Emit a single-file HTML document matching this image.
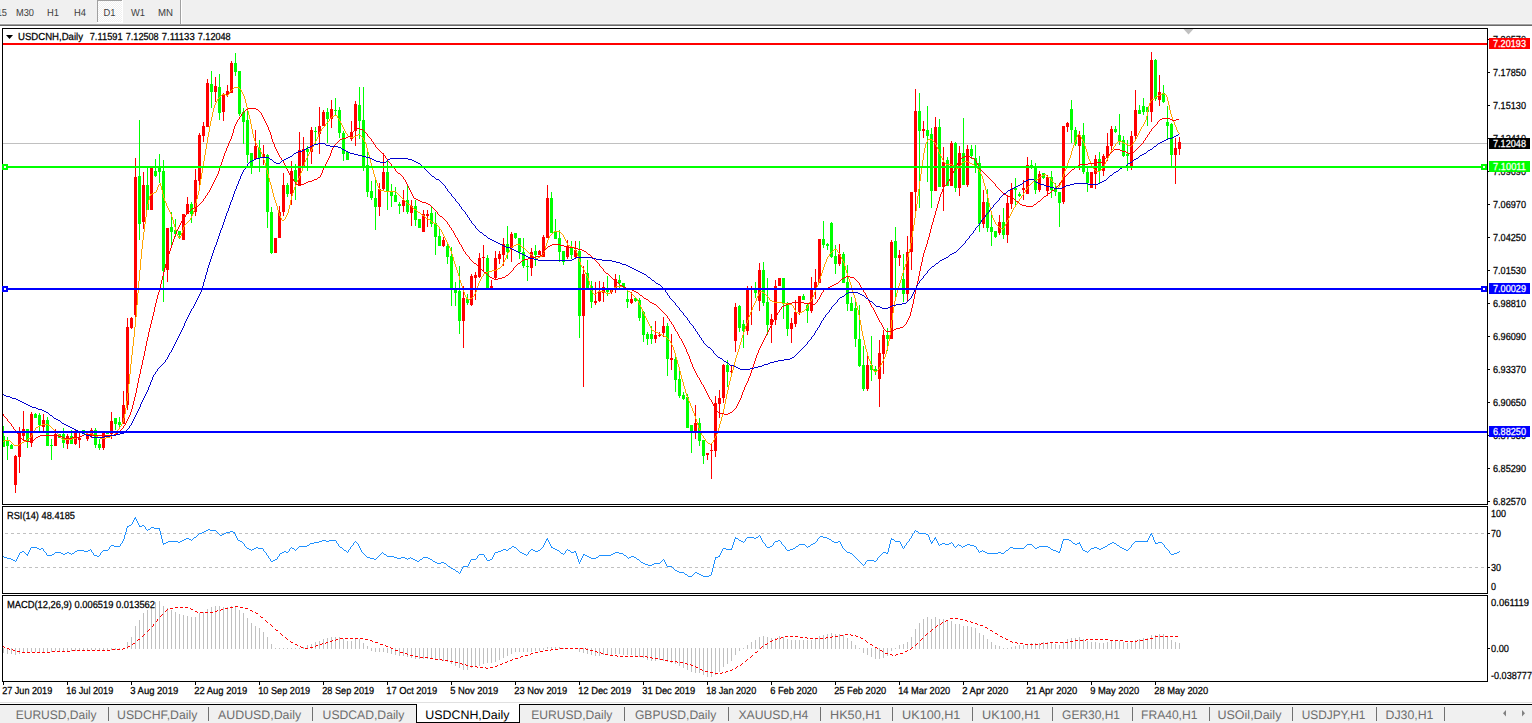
<!DOCTYPE html>
<html><head><meta charset="utf-8"><title>USDCNH,Daily</title>
<style>html,body{margin:0;padding:0;background:#fff}body{width:1532px;height:723px;overflow:hidden;position:relative;font-family:"Liberation Sans",Arial,sans-serif}svg text{white-space:pre}</style>
</head><body>
<svg width="1532" height="723" viewBox="0 0 1532 723" font-family="Liberation Sans, Arial, sans-serif" text-rendering="geometricPrecision" style="position:absolute;left:0;top:0">
<rect x="0" y="0" width="1532" height="723" fill="#fff"/>
<rect x="0" y="0" width="1532" height="24" fill="#f0f0f0"/>
<rect x="0" y="23" width="1532" height="1" fill="#f6f6f6"/>
<rect x="0" y="24" width="1532" height="1" fill="#a0a0a0"/>
<rect x="0" y="25" width="1532" height="1" fill="#696969"/>
<defs><pattern id="dz" width="2" height="2" patternUnits="userSpaceOnUse"><rect width="2" height="2" fill="#f0f0f0"/><rect width="1" height="1" fill="#fff"/><rect x="1" y="1" width="1" height="1" fill="#fff"/></pattern></defs>
<rect x="97" y="0" width="26" height="23" fill="url(#dz)" shape-rendering="crispEdges"/>
<rect x="97" y="0" width="26" height="1" fill="#a0a0a0"/>
<rect x="97" y="0" width="1" height="23" fill="#a0a0a0"/>
<rect x="97" y="22" width="26" height="1" fill="#fff"/>
<rect x="122" y="0" width="1" height="23" fill="#fff"/>
<rect x="180" y="0" width="1" height="24" fill="#a0a0a0"/>
<rect x="181" y="0" width="1" height="24" fill="#fff"/>
<text x="-11" y="16" font-size="10.2" fill="#404040" stroke="#404040" stroke-width="0" textLength="18" lengthAdjust="spacingAndGlyphs">M15</text>
<text x="16" y="16" font-size="10.2" fill="#404040" stroke="#404040" stroke-width="0" textLength="18" lengthAdjust="spacingAndGlyphs">M30</text>
<text x="47" y="16" font-size="10.2" fill="#404040" stroke="#404040" stroke-width="0" textLength="12" lengthAdjust="spacingAndGlyphs">H1</text>
<text x="74" y="16" font-size="10.2" fill="#404040" stroke="#404040" stroke-width="0" textLength="12" lengthAdjust="spacingAndGlyphs">H4</text>
<text x="103.5" y="16" font-size="10.2" fill="#404040" stroke="#404040" stroke-width="0" textLength="12" lengthAdjust="spacingAndGlyphs">D1</text>
<text x="131" y="16" font-size="10.2" fill="#404040" stroke="#404040" stroke-width="0" textLength="14" lengthAdjust="spacingAndGlyphs">W1</text>
<text x="158" y="16" font-size="10.2" fill="#404040" stroke="#404040" stroke-width="0" textLength="15" lengthAdjust="spacingAndGlyphs">MN</text>
<g shape-rendering="crispEdges">
<rect x="3" y="143" width="1484" height="1" fill="#c0c0c0"/>
<rect x="3" y="426" width="1" height="21" fill="#00ff00"/>
<rect x="2" y="436" width="3" height="11" fill="#00ff00"/>
<rect x="7" y="437" width="1" height="23" fill="#00ff00"/>
<rect x="6" y="441" width="3" height="5" fill="#00ff00"/>
<rect x="11" y="444" width="1" height="5" fill="#00ff00"/>
<rect x="10" y="445" width="3" height="4" fill="#00ff00"/>
<rect x="15" y="455" width="1" height="38" fill="#ff0000"/>
<rect x="14" y="456" width="3" height="29" fill="#ff0000"/>
<rect x="19" y="427" width="1" height="46" fill="#ff0000"/>
<rect x="18" y="432" width="3" height="25" fill="#ff0000"/>
<rect x="23" y="411" width="1" height="30" fill="#ff0000"/>
<rect x="22" y="429" width="3" height="7" fill="#ff0000"/>
<rect x="27" y="429" width="1" height="19" fill="#00ff00"/>
<rect x="26" y="429" width="3" height="12" fill="#00ff00"/>
<rect x="31" y="412" width="1" height="35" fill="#ff0000"/>
<rect x="30" y="414" width="3" height="29" fill="#ff0000"/>
<rect x="35" y="413" width="1" height="5" fill="#00ff00"/>
<rect x="34" y="414" width="3" height="4" fill="#00ff00"/>
<rect x="39" y="413" width="1" height="18" fill="#00ff00"/>
<rect x="38" y="415" width="3" height="10" fill="#00ff00"/>
<rect x="43" y="414" width="1" height="17" fill="#ff0000"/>
<rect x="42" y="420" width="3" height="7" fill="#ff0000"/>
<rect x="47" y="417" width="1" height="29" fill="#00ff00"/>
<rect x="46" y="420" width="3" height="26" fill="#00ff00"/>
<rect x="51" y="439" width="1" height="21" fill="#00ff00"/>
<rect x="50" y="445" width="3" height="1" fill="#00ff00"/>
<rect x="55" y="429" width="1" height="17" fill="#ff0000"/>
<rect x="54" y="434" width="3" height="12" fill="#ff0000"/>
<rect x="59" y="434" width="1" height="4" fill="#00ff00"/>
<rect x="58" y="434" width="3" height="4" fill="#00ff00"/>
<rect x="63" y="428" width="1" height="20" fill="#00ff00"/>
<rect x="62" y="434" width="3" height="9" fill="#00ff00"/>
<rect x="67" y="434" width="1" height="15" fill="#ff0000"/>
<rect x="66" y="436" width="3" height="8" fill="#ff0000"/>
<rect x="71" y="430" width="1" height="14" fill="#00ff00"/>
<rect x="70" y="436" width="3" height="8" fill="#00ff00"/>
<rect x="75" y="430" width="1" height="15" fill="#ff0000"/>
<rect x="74" y="433" width="3" height="11" fill="#ff0000"/>
<rect x="79" y="433" width="1" height="15" fill="#ff0000"/>
<rect x="78" y="438" width="3" height="2" fill="#ff0000"/>
<rect x="83" y="430" width="1" height="4" fill="#00ff00"/>
<rect x="82" y="430" width="3" height="4" fill="#00ff00"/>
<rect x="87" y="433" width="1" height="8" fill="#ff0000"/>
<rect x="86" y="434" width="3" height="5" fill="#ff0000"/>
<rect x="91" y="428" width="1" height="10" fill="#ff0000"/>
<rect x="90" y="430" width="3" height="6" fill="#ff0000"/>
<rect x="95" y="428" width="1" height="20" fill="#00ff00"/>
<rect x="94" y="430" width="3" height="15" fill="#00ff00"/>
<rect x="99" y="439" width="1" height="11" fill="#00ff00"/>
<rect x="98" y="444" width="3" height="4" fill="#00ff00"/>
<rect x="103" y="433" width="1" height="17" fill="#ff0000"/>
<rect x="102" y="433" width="3" height="15" fill="#ff0000"/>
<rect x="107" y="432" width="1" height="2" fill="#00ff00"/>
<rect x="106" y="432" width="3" height="2" fill="#00ff00"/>
<rect x="111" y="412" width="1" height="27" fill="#ff0000"/>
<rect x="110" y="421" width="3" height="13" fill="#ff0000"/>
<rect x="115" y="418" width="1" height="12" fill="#00ff00"/>
<rect x="114" y="418" width="3" height="6" fill="#00ff00"/>
<rect x="119" y="417" width="1" height="10" fill="#00ff00"/>
<rect x="118" y="422" width="3" height="3" fill="#00ff00"/>
<rect x="123" y="391" width="1" height="33" fill="#ff0000"/>
<rect x="122" y="405" width="3" height="19" fill="#ff0000"/>
<rect x="127" y="318" width="1" height="92" fill="#ff0000"/>
<rect x="126" y="327" width="3" height="78" fill="#ff0000"/>
<rect x="131" y="317" width="1" height="12" fill="#ff0000"/>
<rect x="130" y="318" width="3" height="10" fill="#ff0000"/>
<rect x="135" y="158" width="1" height="163" fill="#ff0000"/>
<rect x="134" y="177" width="3" height="138" fill="#ff0000"/>
<rect x="139" y="120" width="1" height="120" fill="#00ff00"/>
<rect x="138" y="176" width="3" height="48" fill="#00ff00"/>
<rect x="143" y="172" width="1" height="57" fill="#ff0000"/>
<rect x="142" y="185" width="3" height="37" fill="#ff0000"/>
<rect x="147" y="168" width="1" height="42" fill="#00ff00"/>
<rect x="146" y="185" width="3" height="25" fill="#00ff00"/>
<rect x="151" y="168" width="1" height="42" fill="#ff0000"/>
<rect x="150" y="168" width="3" height="42" fill="#ff0000"/>
<rect x="155" y="159" width="1" height="18" fill="#00ff00"/>
<rect x="154" y="171" width="3" height="5" fill="#00ff00"/>
<rect x="159" y="154" width="1" height="29" fill="#00ff00"/>
<rect x="158" y="166" width="3" height="6" fill="#00ff00"/>
<rect x="163" y="160" width="1" height="142" fill="#00ff00"/>
<rect x="162" y="171" width="3" height="100" fill="#00ff00"/>
<rect x="167" y="228" width="1" height="54" fill="#ff0000"/>
<rect x="166" y="228" width="3" height="42" fill="#ff0000"/>
<rect x="171" y="212" width="1" height="36" fill="#00ff00"/>
<rect x="170" y="227" width="3" height="5" fill="#00ff00"/>
<rect x="175" y="219" width="1" height="18" fill="#00ff00"/>
<rect x="174" y="230" width="3" height="4" fill="#00ff00"/>
<rect x="179" y="231" width="1" height="8" fill="#00ff00"/>
<rect x="178" y="231" width="3" height="4" fill="#00ff00"/>
<rect x="183" y="214" width="1" height="26" fill="#ff0000"/>
<rect x="182" y="214" width="3" height="26" fill="#ff0000"/>
<rect x="187" y="197" width="1" height="17" fill="#ff0000"/>
<rect x="186" y="204" width="3" height="10" fill="#ff0000"/>
<rect x="191" y="202" width="1" height="21" fill="#00ff00"/>
<rect x="190" y="204" width="3" height="10" fill="#00ff00"/>
<rect x="195" y="169" width="1" height="47" fill="#ff0000"/>
<rect x="194" y="180" width="3" height="32" fill="#ff0000"/>
<rect x="199" y="133" width="1" height="54" fill="#ff0000"/>
<rect x="198" y="135" width="3" height="46" fill="#ff0000"/>
<rect x="203" y="122" width="1" height="20" fill="#ff0000"/>
<rect x="202" y="126" width="3" height="10" fill="#ff0000"/>
<rect x="207" y="79" width="1" height="48" fill="#ff0000"/>
<rect x="206" y="83" width="3" height="44" fill="#ff0000"/>
<rect x="211" y="71" width="1" height="37" fill="#00ff00"/>
<rect x="210" y="84" width="3" height="8" fill="#00ff00"/>
<rect x="215" y="77" width="1" height="25" fill="#ff0000"/>
<rect x="214" y="86" width="3" height="6" fill="#ff0000"/>
<rect x="219" y="74" width="1" height="46" fill="#00ff00"/>
<rect x="218" y="87" width="3" height="26" fill="#00ff00"/>
<rect x="223" y="93" width="1" height="28" fill="#ff0000"/>
<rect x="222" y="95" width="3" height="17" fill="#ff0000"/>
<rect x="227" y="85" width="1" height="12" fill="#ff0000"/>
<rect x="226" y="91" width="3" height="4" fill="#ff0000"/>
<rect x="231" y="61" width="1" height="32" fill="#ff0000"/>
<rect x="230" y="63" width="3" height="30" fill="#ff0000"/>
<rect x="235" y="53" width="1" height="23" fill="#00ff00"/>
<rect x="234" y="63" width="3" height="9" fill="#00ff00"/>
<rect x="239" y="71" width="1" height="45" fill="#00ff00"/>
<rect x="238" y="71" width="3" height="43" fill="#00ff00"/>
<rect x="243" y="108" width="1" height="36" fill="#00ff00"/>
<rect x="242" y="112" width="3" height="10" fill="#00ff00"/>
<rect x="247" y="108" width="1" height="55" fill="#00ff00"/>
<rect x="246" y="120" width="3" height="35" fill="#00ff00"/>
<rect x="251" y="153" width="1" height="21" fill="#00ff00"/>
<rect x="250" y="153" width="3" height="13" fill="#00ff00"/>
<rect x="255" y="130" width="1" height="30" fill="#ff0000"/>
<rect x="254" y="146" width="3" height="13" fill="#ff0000"/>
<rect x="259" y="140" width="1" height="32" fill="#00ff00"/>
<rect x="258" y="148" width="3" height="10" fill="#00ff00"/>
<rect x="263" y="145" width="1" height="20" fill="#ff0000"/>
<rect x="262" y="154" width="3" height="4" fill="#ff0000"/>
<rect x="267" y="154" width="1" height="74" fill="#00ff00"/>
<rect x="266" y="155" width="3" height="57" fill="#00ff00"/>
<rect x="271" y="207" width="1" height="47" fill="#00ff00"/>
<rect x="270" y="212" width="3" height="41" fill="#00ff00"/>
<rect x="275" y="238" width="1" height="15" fill="#ff0000"/>
<rect x="274" y="238" width="3" height="15" fill="#ff0000"/>
<rect x="279" y="206" width="1" height="32" fill="#ff0000"/>
<rect x="278" y="212" width="3" height="26" fill="#ff0000"/>
<rect x="283" y="173" width="1" height="43" fill="#ff0000"/>
<rect x="282" y="185" width="3" height="27" fill="#ff0000"/>
<rect x="287" y="183" width="1" height="14" fill="#00ff00"/>
<rect x="286" y="185" width="3" height="9" fill="#00ff00"/>
<rect x="291" y="161" width="1" height="44" fill="#ff0000"/>
<rect x="290" y="171" width="3" height="23" fill="#ff0000"/>
<rect x="295" y="164" width="1" height="36" fill="#00ff00"/>
<rect x="294" y="170" width="3" height="12" fill="#00ff00"/>
<rect x="299" y="132" width="1" height="54" fill="#ff0000"/>
<rect x="298" y="150" width="3" height="36" fill="#ff0000"/>
<rect x="303" y="137" width="1" height="29" fill="#ff0000"/>
<rect x="302" y="149" width="3" height="17" fill="#ff0000"/>
<rect x="307" y="146" width="1" height="25" fill="#00ff00"/>
<rect x="306" y="149" width="3" height="3" fill="#00ff00"/>
<rect x="311" y="127" width="1" height="37" fill="#ff0000"/>
<rect x="310" y="130" width="3" height="22" fill="#ff0000"/>
<rect x="315" y="127" width="1" height="18" fill="#00ff00"/>
<rect x="314" y="131" width="3" height="1" fill="#00ff00"/>
<rect x="319" y="107" width="1" height="47" fill="#ff0000"/>
<rect x="318" y="126" width="3" height="8" fill="#ff0000"/>
<rect x="323" y="110" width="1" height="16" fill="#ff0000"/>
<rect x="322" y="112" width="3" height="14" fill="#ff0000"/>
<rect x="327" y="108" width="1" height="35" fill="#00ff00"/>
<rect x="326" y="112" width="3" height="7" fill="#00ff00"/>
<rect x="331" y="100" width="1" height="28" fill="#ff0000"/>
<rect x="330" y="109" width="3" height="10" fill="#ff0000"/>
<rect x="335" y="98" width="1" height="17" fill="#00ff00"/>
<rect x="334" y="110" width="3" height="1" fill="#00ff00"/>
<rect x="339" y="107" width="1" height="31" fill="#00ff00"/>
<rect x="338" y="110" width="3" height="23" fill="#00ff00"/>
<rect x="343" y="131" width="1" height="30" fill="#00ff00"/>
<rect x="342" y="133" width="3" height="21" fill="#00ff00"/>
<rect x="347" y="152" width="1" height="8" fill="#00ff00"/>
<rect x="346" y="152" width="3" height="8" fill="#00ff00"/>
<rect x="351" y="121" width="1" height="20" fill="#ff0000"/>
<rect x="350" y="132" width="3" height="7" fill="#ff0000"/>
<rect x="355" y="101" width="1" height="45" fill="#ff0000"/>
<rect x="354" y="104" width="3" height="27" fill="#ff0000"/>
<rect x="359" y="87" width="1" height="52" fill="#00ff00"/>
<rect x="358" y="105" width="3" height="16" fill="#00ff00"/>
<rect x="363" y="87" width="1" height="84" fill="#00ff00"/>
<rect x="362" y="120" width="3" height="47" fill="#00ff00"/>
<rect x="367" y="149" width="1" height="48" fill="#00ff00"/>
<rect x="366" y="165" width="3" height="27" fill="#00ff00"/>
<rect x="371" y="181" width="1" height="19" fill="#00ff00"/>
<rect x="370" y="191" width="3" height="7" fill="#00ff00"/>
<rect x="375" y="178" width="1" height="52" fill="#00ff00"/>
<rect x="374" y="198" width="3" height="9" fill="#00ff00"/>
<rect x="379" y="183" width="1" height="33" fill="#ff0000"/>
<rect x="378" y="189" width="3" height="18" fill="#ff0000"/>
<rect x="383" y="153" width="1" height="37" fill="#ff0000"/>
<rect x="382" y="172" width="3" height="17" fill="#ff0000"/>
<rect x="387" y="160" width="1" height="50" fill="#00ff00"/>
<rect x="386" y="172" width="3" height="19" fill="#00ff00"/>
<rect x="391" y="184" width="1" height="23" fill="#00ff00"/>
<rect x="390" y="191" width="3" height="5" fill="#00ff00"/>
<rect x="395" y="187" width="1" height="15" fill="#00ff00"/>
<rect x="394" y="195" width="3" height="7" fill="#00ff00"/>
<rect x="399" y="202" width="1" height="12" fill="#00ff00"/>
<rect x="398" y="204" width="3" height="2" fill="#00ff00"/>
<rect x="403" y="190" width="1" height="22" fill="#ff0000"/>
<rect x="402" y="200" width="3" height="6" fill="#ff0000"/>
<rect x="407" y="186" width="1" height="28" fill="#00ff00"/>
<rect x="406" y="200" width="3" height="12" fill="#00ff00"/>
<rect x="411" y="200" width="1" height="26" fill="#ff0000"/>
<rect x="410" y="206" width="3" height="7" fill="#ff0000"/>
<rect x="415" y="200" width="1" height="26" fill="#00ff00"/>
<rect x="414" y="206" width="3" height="14" fill="#00ff00"/>
<rect x="419" y="219" width="1" height="9" fill="#00ff00"/>
<rect x="418" y="219" width="3" height="9" fill="#00ff00"/>
<rect x="423" y="210" width="1" height="22" fill="#ff0000"/>
<rect x="422" y="214" width="3" height="18" fill="#ff0000"/>
<rect x="427" y="210" width="1" height="17" fill="#ff0000"/>
<rect x="426" y="214" width="3" height="2" fill="#ff0000"/>
<rect x="431" y="206" width="1" height="21" fill="#00ff00"/>
<rect x="430" y="213" width="3" height="11" fill="#00ff00"/>
<rect x="435" y="212" width="1" height="43" fill="#00ff00"/>
<rect x="434" y="223" width="3" height="14" fill="#00ff00"/>
<rect x="439" y="227" width="1" height="19" fill="#00ff00"/>
<rect x="438" y="236" width="3" height="10" fill="#00ff00"/>
<rect x="443" y="237" width="1" height="10" fill="#ff0000"/>
<rect x="442" y="240" width="3" height="6" fill="#ff0000"/>
<rect x="447" y="242" width="1" height="22" fill="#00ff00"/>
<rect x="446" y="246" width="3" height="11" fill="#00ff00"/>
<rect x="451" y="247" width="1" height="59" fill="#00ff00"/>
<rect x="450" y="256" width="3" height="33" fill="#00ff00"/>
<rect x="455" y="282" width="1" height="24" fill="#00ff00"/>
<rect x="454" y="289" width="3" height="4" fill="#00ff00"/>
<rect x="459" y="266" width="1" height="68" fill="#00ff00"/>
<rect x="458" y="291" width="3" height="30" fill="#00ff00"/>
<rect x="463" y="286" width="1" height="62" fill="#ff0000"/>
<rect x="462" y="298" width="3" height="23" fill="#ff0000"/>
<rect x="467" y="294" width="1" height="11" fill="#00ff00"/>
<rect x="466" y="299" width="3" height="4" fill="#00ff00"/>
<rect x="471" y="274" width="1" height="32" fill="#ff0000"/>
<rect x="470" y="276" width="3" height="29" fill="#ff0000"/>
<rect x="475" y="272" width="1" height="28" fill="#ff0000"/>
<rect x="474" y="275" width="3" height="3" fill="#ff0000"/>
<rect x="479" y="253" width="1" height="25" fill="#ff0000"/>
<rect x="478" y="258" width="3" height="19" fill="#ff0000"/>
<rect x="483" y="245" width="1" height="26" fill="#ff0000"/>
<rect x="482" y="257" width="3" height="1" fill="#ff0000"/>
<rect x="487" y="255" width="1" height="33" fill="#00ff00"/>
<rect x="486" y="258" width="3" height="30" fill="#00ff00"/>
<rect x="491" y="280" width="1" height="8" fill="#ff0000"/>
<rect x="490" y="286" width="3" height="2" fill="#ff0000"/>
<rect x="495" y="251" width="1" height="28" fill="#ff0000"/>
<rect x="494" y="258" width="3" height="20" fill="#ff0000"/>
<rect x="499" y="251" width="1" height="13" fill="#ff0000"/>
<rect x="498" y="254" width="3" height="5" fill="#ff0000"/>
<rect x="503" y="238" width="1" height="28" fill="#ff0000"/>
<rect x="502" y="244" width="3" height="11" fill="#ff0000"/>
<rect x="507" y="226" width="1" height="33" fill="#00ff00"/>
<rect x="506" y="244" width="3" height="8" fill="#00ff00"/>
<rect x="511" y="232" width="1" height="30" fill="#ff0000"/>
<rect x="510" y="234" width="3" height="14" fill="#ff0000"/>
<rect x="515" y="233" width="1" height="6" fill="#00ff00"/>
<rect x="514" y="233" width="3" height="5" fill="#00ff00"/>
<rect x="519" y="238" width="1" height="21" fill="#00ff00"/>
<rect x="518" y="238" width="3" height="14" fill="#00ff00"/>
<rect x="523" y="238" width="1" height="30" fill="#00ff00"/>
<rect x="522" y="252" width="3" height="14" fill="#00ff00"/>
<rect x="527" y="260" width="1" height="21" fill="#00ff00"/>
<rect x="526" y="266" width="3" height="1" fill="#00ff00"/>
<rect x="531" y="248" width="1" height="28" fill="#ff0000"/>
<rect x="530" y="252" width="3" height="16" fill="#ff0000"/>
<rect x="535" y="245" width="1" height="21" fill="#00ff00"/>
<rect x="534" y="251" width="3" height="4" fill="#00ff00"/>
<rect x="539" y="250" width="1" height="5" fill="#ff0000"/>
<rect x="538" y="251" width="3" height="4" fill="#ff0000"/>
<rect x="543" y="235" width="1" height="22" fill="#ff0000"/>
<rect x="542" y="237" width="3" height="20" fill="#ff0000"/>
<rect x="547" y="185" width="1" height="53" fill="#ff0000"/>
<rect x="546" y="198" width="3" height="40" fill="#ff0000"/>
<rect x="551" y="192" width="1" height="41" fill="#00ff00"/>
<rect x="550" y="198" width="3" height="35" fill="#00ff00"/>
<rect x="555" y="219" width="1" height="20" fill="#00ff00"/>
<rect x="554" y="232" width="3" height="7" fill="#00ff00"/>
<rect x="559" y="230" width="1" height="32" fill="#00ff00"/>
<rect x="558" y="238" width="3" height="14" fill="#00ff00"/>
<rect x="563" y="251" width="1" height="14" fill="#00ff00"/>
<rect x="562" y="251" width="3" height="11" fill="#00ff00"/>
<rect x="567" y="240" width="1" height="19" fill="#ff0000"/>
<rect x="566" y="246" width="3" height="11" fill="#ff0000"/>
<rect x="571" y="241" width="1" height="18" fill="#00ff00"/>
<rect x="570" y="248" width="3" height="7" fill="#00ff00"/>
<rect x="575" y="241" width="1" height="18" fill="#ff0000"/>
<rect x="574" y="250" width="3" height="7" fill="#ff0000"/>
<rect x="579" y="241" width="1" height="97" fill="#00ff00"/>
<rect x="578" y="251" width="3" height="65" fill="#00ff00"/>
<rect x="583" y="266" width="1" height="121" fill="#ff0000"/>
<rect x="582" y="274" width="3" height="42" fill="#ff0000"/>
<rect x="587" y="260" width="1" height="28" fill="#00ff00"/>
<rect x="586" y="273" width="3" height="15" fill="#00ff00"/>
<rect x="591" y="281" width="1" height="27" fill="#00ff00"/>
<rect x="590" y="286" width="3" height="16" fill="#00ff00"/>
<rect x="595" y="282" width="1" height="23" fill="#ff0000"/>
<rect x="594" y="301" width="3" height="2" fill="#ff0000"/>
<rect x="599" y="281" width="1" height="21" fill="#ff0000"/>
<rect x="598" y="292" width="3" height="9" fill="#ff0000"/>
<rect x="603" y="282" width="1" height="20" fill="#ff0000"/>
<rect x="602" y="287" width="3" height="6" fill="#ff0000"/>
<rect x="607" y="276" width="1" height="20" fill="#00ff00"/>
<rect x="606" y="288" width="3" height="4" fill="#00ff00"/>
<rect x="611" y="288" width="1" height="6" fill="#ff0000"/>
<rect x="610" y="290" width="3" height="2" fill="#ff0000"/>
<rect x="615" y="274" width="1" height="19" fill="#ff0000"/>
<rect x="614" y="279" width="3" height="10" fill="#ff0000"/>
<rect x="619" y="275" width="1" height="13" fill="#00ff00"/>
<rect x="618" y="280" width="3" height="3" fill="#00ff00"/>
<rect x="623" y="283" width="1" height="7" fill="#00ff00"/>
<rect x="622" y="283" width="3" height="4" fill="#00ff00"/>
<rect x="627" y="290" width="1" height="18" fill="#00ff00"/>
<rect x="626" y="299" width="3" height="3" fill="#00ff00"/>
<rect x="631" y="292" width="1" height="12" fill="#ff0000"/>
<rect x="630" y="299" width="3" height="4" fill="#ff0000"/>
<rect x="635" y="297" width="1" height="5" fill="#00ff00"/>
<rect x="634" y="298" width="3" height="3" fill="#00ff00"/>
<rect x="639" y="298" width="1" height="23" fill="#00ff00"/>
<rect x="638" y="300" width="3" height="18" fill="#00ff00"/>
<rect x="643" y="311" width="1" height="31" fill="#00ff00"/>
<rect x="642" y="312" width="3" height="23" fill="#00ff00"/>
<rect x="647" y="332" width="1" height="13" fill="#00ff00"/>
<rect x="646" y="334" width="3" height="5" fill="#00ff00"/>
<rect x="651" y="326" width="1" height="18" fill="#00ff00"/>
<rect x="650" y="334" width="3" height="5" fill="#00ff00"/>
<rect x="655" y="321" width="1" height="22" fill="#ff0000"/>
<rect x="654" y="335" width="3" height="4" fill="#ff0000"/>
<rect x="659" y="332" width="1" height="5" fill="#ff0000"/>
<rect x="658" y="335" width="3" height="1" fill="#ff0000"/>
<rect x="663" y="317" width="1" height="20" fill="#ff0000"/>
<rect x="662" y="326" width="3" height="7" fill="#ff0000"/>
<rect x="667" y="323" width="1" height="53" fill="#00ff00"/>
<rect x="666" y="326" width="3" height="33" fill="#00ff00"/>
<rect x="671" y="334" width="1" height="36" fill="#ff0000"/>
<rect x="670" y="358" width="3" height="2" fill="#ff0000"/>
<rect x="675" y="357" width="1" height="35" fill="#00ff00"/>
<rect x="674" y="359" width="3" height="21" fill="#00ff00"/>
<rect x="679" y="370" width="1" height="28" fill="#00ff00"/>
<rect x="678" y="379" width="3" height="17" fill="#00ff00"/>
<rect x="683" y="392" width="1" height="8" fill="#00ff00"/>
<rect x="682" y="395" width="3" height="4" fill="#00ff00"/>
<rect x="687" y="394" width="1" height="34" fill="#00ff00"/>
<rect x="686" y="397" width="3" height="31" fill="#00ff00"/>
<rect x="691" y="425" width="1" height="28" fill="#00ff00"/>
<rect x="690" y="425" width="3" height="6" fill="#00ff00"/>
<rect x="695" y="405" width="1" height="34" fill="#ff0000"/>
<rect x="694" y="423" width="3" height="8" fill="#ff0000"/>
<rect x="699" y="418" width="1" height="28" fill="#00ff00"/>
<rect x="698" y="423" width="3" height="18" fill="#00ff00"/>
<rect x="703" y="440" width="1" height="24" fill="#00ff00"/>
<rect x="702" y="440" width="3" height="16" fill="#00ff00"/>
<rect x="707" y="453" width="1" height="7" fill="#ff0000"/>
<rect x="706" y="453" width="3" height="2" fill="#ff0000"/>
<rect x="711" y="444" width="1" height="35" fill="#ff0000"/>
<rect x="710" y="450" width="3" height="1" fill="#ff0000"/>
<rect x="715" y="396" width="1" height="61" fill="#ff0000"/>
<rect x="714" y="403" width="3" height="48" fill="#ff0000"/>
<rect x="719" y="390" width="1" height="28" fill="#ff0000"/>
<rect x="718" y="398" width="3" height="6" fill="#ff0000"/>
<rect x="723" y="364" width="1" height="39" fill="#ff0000"/>
<rect x="722" y="365" width="3" height="33" fill="#ff0000"/>
<rect x="727" y="360" width="1" height="27" fill="#00ff00"/>
<rect x="726" y="365" width="3" height="7" fill="#00ff00"/>
<rect x="731" y="366" width="1" height="9" fill="#ff0000"/>
<rect x="730" y="371" width="3" height="1" fill="#ff0000"/>
<rect x="735" y="303" width="1" height="49" fill="#ff0000"/>
<rect x="734" y="307" width="3" height="34" fill="#ff0000"/>
<rect x="739" y="305" width="1" height="27" fill="#00ff00"/>
<rect x="738" y="306" width="3" height="22" fill="#00ff00"/>
<rect x="743" y="320" width="1" height="28" fill="#00ff00"/>
<rect x="742" y="324" width="3" height="7" fill="#00ff00"/>
<rect x="747" y="286" width="1" height="49" fill="#ff0000"/>
<rect x="746" y="288" width="3" height="43" fill="#ff0000"/>
<rect x="751" y="286" width="1" height="39" fill="#ff0000"/>
<rect x="750" y="288" width="3" height="2" fill="#ff0000"/>
<rect x="755" y="282" width="1" height="16" fill="#00ff00"/>
<rect x="754" y="288" width="3" height="5" fill="#00ff00"/>
<rect x="759" y="263" width="1" height="48" fill="#ff0000"/>
<rect x="758" y="270" width="3" height="31" fill="#ff0000"/>
<rect x="763" y="262" width="1" height="44" fill="#00ff00"/>
<rect x="762" y="270" width="3" height="33" fill="#00ff00"/>
<rect x="767" y="278" width="1" height="57" fill="#00ff00"/>
<rect x="766" y="302" width="3" height="23" fill="#00ff00"/>
<rect x="771" y="314" width="1" height="29" fill="#ff0000"/>
<rect x="770" y="319" width="3" height="6" fill="#ff0000"/>
<rect x="775" y="280" width="1" height="45" fill="#ff0000"/>
<rect x="774" y="286" width="3" height="34" fill="#ff0000"/>
<rect x="779" y="278" width="1" height="8" fill="#ff0000"/>
<rect x="778" y="278" width="3" height="8" fill="#ff0000"/>
<rect x="783" y="278" width="1" height="41" fill="#00ff00"/>
<rect x="782" y="278" width="3" height="25" fill="#00ff00"/>
<rect x="787" y="302" width="1" height="34" fill="#00ff00"/>
<rect x="786" y="304" width="3" height="25" fill="#00ff00"/>
<rect x="791" y="318" width="1" height="25" fill="#ff0000"/>
<rect x="790" y="323" width="3" height="6" fill="#ff0000"/>
<rect x="795" y="300" width="1" height="27" fill="#ff0000"/>
<rect x="794" y="312" width="3" height="12" fill="#ff0000"/>
<rect x="799" y="296" width="1" height="19" fill="#ff0000"/>
<rect x="798" y="296" width="3" height="16" fill="#ff0000"/>
<rect x="803" y="294" width="1" height="6" fill="#00ff00"/>
<rect x="802" y="296" width="3" height="4" fill="#00ff00"/>
<rect x="807" y="304" width="1" height="19" fill="#00ff00"/>
<rect x="806" y="305" width="3" height="6" fill="#00ff00"/>
<rect x="811" y="277" width="1" height="36" fill="#ff0000"/>
<rect x="810" y="288" width="3" height="23" fill="#ff0000"/>
<rect x="815" y="269" width="1" height="30" fill="#ff0000"/>
<rect x="814" y="282" width="3" height="7" fill="#ff0000"/>
<rect x="819" y="239" width="1" height="44" fill="#ff0000"/>
<rect x="818" y="239" width="3" height="44" fill="#ff0000"/>
<rect x="823" y="221" width="1" height="27" fill="#00ff00"/>
<rect x="822" y="239" width="3" height="6" fill="#00ff00"/>
<rect x="827" y="243" width="1" height="7" fill="#00ff00"/>
<rect x="826" y="244" width="3" height="2" fill="#00ff00"/>
<rect x="831" y="222" width="1" height="36" fill="#00ff00"/>
<rect x="830" y="223" width="3" height="34" fill="#00ff00"/>
<rect x="835" y="245" width="1" height="29" fill="#00ff00"/>
<rect x="834" y="256" width="3" height="8" fill="#00ff00"/>
<rect x="839" y="244" width="1" height="22" fill="#ff0000"/>
<rect x="838" y="254" width="3" height="10" fill="#ff0000"/>
<rect x="843" y="252" width="1" height="31" fill="#00ff00"/>
<rect x="842" y="254" width="3" height="29" fill="#00ff00"/>
<rect x="847" y="265" width="1" height="46" fill="#00ff00"/>
<rect x="846" y="282" width="3" height="22" fill="#00ff00"/>
<rect x="851" y="297" width="1" height="14" fill="#00ff00"/>
<rect x="850" y="303" width="3" height="8" fill="#00ff00"/>
<rect x="855" y="302" width="1" height="45" fill="#00ff00"/>
<rect x="854" y="308" width="3" height="31" fill="#00ff00"/>
<rect x="859" y="305" width="1" height="62" fill="#00ff00"/>
<rect x="858" y="339" width="3" height="27" fill="#00ff00"/>
<rect x="863" y="346" width="1" height="45" fill="#00ff00"/>
<rect x="862" y="365" width="3" height="24" fill="#00ff00"/>
<rect x="867" y="356" width="1" height="35" fill="#ff0000"/>
<rect x="866" y="365" width="3" height="24" fill="#ff0000"/>
<rect x="871" y="336" width="1" height="45" fill="#00ff00"/>
<rect x="870" y="365" width="3" height="5" fill="#00ff00"/>
<rect x="875" y="366" width="1" height="9" fill="#00ff00"/>
<rect x="874" y="369" width="3" height="3" fill="#00ff00"/>
<rect x="879" y="340" width="1" height="67" fill="#ff0000"/>
<rect x="878" y="353" width="3" height="26" fill="#ff0000"/>
<rect x="883" y="330" width="1" height="44" fill="#ff0000"/>
<rect x="882" y="335" width="3" height="19" fill="#ff0000"/>
<rect x="887" y="328" width="1" height="23" fill="#00ff00"/>
<rect x="886" y="335" width="3" height="4" fill="#00ff00"/>
<rect x="891" y="240" width="1" height="99" fill="#ff0000"/>
<rect x="890" y="242" width="3" height="97" fill="#ff0000"/>
<rect x="895" y="227" width="1" height="72" fill="#00ff00"/>
<rect x="894" y="241" width="3" height="17" fill="#00ff00"/>
<rect x="899" y="250" width="1" height="16" fill="#ff0000"/>
<rect x="898" y="255" width="3" height="3" fill="#ff0000"/>
<rect x="903" y="254" width="1" height="48" fill="#00ff00"/>
<rect x="902" y="279" width="3" height="15" fill="#00ff00"/>
<rect x="907" y="236" width="1" height="65" fill="#ff0000"/>
<rect x="906" y="252" width="3" height="42" fill="#ff0000"/>
<rect x="911" y="192" width="1" height="78" fill="#ff0000"/>
<rect x="910" y="192" width="3" height="60" fill="#ff0000"/>
<rect x="915" y="89" width="1" height="129" fill="#ff0000"/>
<rect x="914" y="111" width="3" height="81" fill="#ff0000"/>
<rect x="919" y="93" width="1" height="115" fill="#00ff00"/>
<rect x="918" y="111" width="3" height="20" fill="#00ff00"/>
<rect x="923" y="121" width="1" height="17" fill="#ff0000"/>
<rect x="922" y="129" width="3" height="2" fill="#ff0000"/>
<rect x="927" y="106" width="1" height="76" fill="#00ff00"/>
<rect x="926" y="130" width="3" height="6" fill="#00ff00"/>
<rect x="931" y="128" width="1" height="80" fill="#00ff00"/>
<rect x="930" y="134" width="3" height="57" fill="#00ff00"/>
<rect x="935" y="117" width="1" height="74" fill="#ff0000"/>
<rect x="934" y="127" width="3" height="64" fill="#ff0000"/>
<rect x="939" y="119" width="1" height="68" fill="#00ff00"/>
<rect x="938" y="127" width="3" height="60" fill="#00ff00"/>
<rect x="943" y="147" width="1" height="64" fill="#ff0000"/>
<rect x="942" y="162" width="3" height="25" fill="#ff0000"/>
<rect x="947" y="157" width="1" height="29" fill="#00ff00"/>
<rect x="946" y="160" width="3" height="26" fill="#00ff00"/>
<rect x="951" y="141" width="1" height="45" fill="#ff0000"/>
<rect x="950" y="143" width="3" height="43" fill="#ff0000"/>
<rect x="955" y="142" width="1" height="50" fill="#00ff00"/>
<rect x="954" y="143" width="3" height="45" fill="#00ff00"/>
<rect x="959" y="146" width="1" height="50" fill="#ff0000"/>
<rect x="958" y="153" width="3" height="35" fill="#ff0000"/>
<rect x="963" y="118" width="1" height="67" fill="#00ff00"/>
<rect x="962" y="153" width="3" height="32" fill="#00ff00"/>
<rect x="967" y="145" width="1" height="42" fill="#ff0000"/>
<rect x="966" y="149" width="3" height="36" fill="#ff0000"/>
<rect x="971" y="145" width="1" height="14" fill="#00ff00"/>
<rect x="970" y="149" width="3" height="7" fill="#00ff00"/>
<rect x="975" y="145" width="1" height="28" fill="#00ff00"/>
<rect x="974" y="158" width="3" height="8" fill="#00ff00"/>
<rect x="979" y="156" width="1" height="76" fill="#00ff00"/>
<rect x="978" y="163" width="3" height="61" fill="#00ff00"/>
<rect x="983" y="190" width="1" height="38" fill="#ff0000"/>
<rect x="982" y="202" width="3" height="22" fill="#ff0000"/>
<rect x="987" y="189" width="1" height="43" fill="#00ff00"/>
<rect x="986" y="202" width="3" height="26" fill="#00ff00"/>
<rect x="991" y="215" width="1" height="31" fill="#00ff00"/>
<rect x="990" y="227" width="3" height="5" fill="#00ff00"/>
<rect x="995" y="231" width="1" height="7" fill="#00ff00"/>
<rect x="994" y="231" width="3" height="6" fill="#00ff00"/>
<rect x="999" y="215" width="1" height="20" fill="#ff0000"/>
<rect x="998" y="222" width="3" height="11" fill="#ff0000"/>
<rect x="1003" y="208" width="1" height="31" fill="#00ff00"/>
<rect x="1002" y="222" width="3" height="13" fill="#00ff00"/>
<rect x="1007" y="196" width="1" height="47" fill="#ff0000"/>
<rect x="1006" y="203" width="3" height="32" fill="#ff0000"/>
<rect x="1011" y="183" width="1" height="26" fill="#ff0000"/>
<rect x="1010" y="189" width="3" height="15" fill="#ff0000"/>
<rect x="1015" y="178" width="1" height="29" fill="#00ff00"/>
<rect x="1014" y="188" width="3" height="2" fill="#00ff00"/>
<rect x="1019" y="192" width="1" height="5" fill="#00ff00"/>
<rect x="1018" y="194" width="3" height="2" fill="#00ff00"/>
<rect x="1023" y="180" width="1" height="20" fill="#ff0000"/>
<rect x="1022" y="188" width="3" height="2" fill="#ff0000"/>
<rect x="1027" y="157" width="1" height="37" fill="#ff0000"/>
<rect x="1026" y="165" width="3" height="29" fill="#ff0000"/>
<rect x="1031" y="160" width="1" height="9" fill="#00ff00"/>
<rect x="1030" y="165" width="3" height="3" fill="#00ff00"/>
<rect x="1035" y="163" width="1" height="31" fill="#00ff00"/>
<rect x="1034" y="166" width="3" height="24" fill="#00ff00"/>
<rect x="1039" y="171" width="1" height="21" fill="#ff0000"/>
<rect x="1038" y="174" width="3" height="16" fill="#ff0000"/>
<rect x="1043" y="173" width="1" height="6" fill="#00ff00"/>
<rect x="1042" y="173" width="3" height="5" fill="#00ff00"/>
<rect x="1047" y="175" width="1" height="21" fill="#ff0000"/>
<rect x="1046" y="177" width="3" height="14" fill="#ff0000"/>
<rect x="1051" y="171" width="1" height="27" fill="#00ff00"/>
<rect x="1050" y="177" width="3" height="13" fill="#00ff00"/>
<rect x="1055" y="183" width="1" height="13" fill="#00ff00"/>
<rect x="1054" y="188" width="3" height="4" fill="#00ff00"/>
<rect x="1059" y="192" width="1" height="35" fill="#00ff00"/>
<rect x="1058" y="192" width="3" height="11" fill="#00ff00"/>
<rect x="1063" y="126" width="1" height="78" fill="#ff0000"/>
<rect x="1062" y="126" width="3" height="76" fill="#ff0000"/>
<rect x="1067" y="122" width="1" height="10" fill="#ff0000"/>
<rect x="1066" y="123" width="3" height="4" fill="#ff0000"/>
<rect x="1071" y="100" width="1" height="43" fill="#00ff00"/>
<rect x="1070" y="109" width="3" height="21" fill="#00ff00"/>
<rect x="1075" y="127" width="1" height="19" fill="#00ff00"/>
<rect x="1074" y="130" width="3" height="14" fill="#00ff00"/>
<rect x="1079" y="131" width="1" height="39" fill="#ff0000"/>
<rect x="1078" y="135" width="3" height="11" fill="#ff0000"/>
<rect x="1083" y="123" width="1" height="51" fill="#00ff00"/>
<rect x="1082" y="135" width="3" height="37" fill="#00ff00"/>
<rect x="1087" y="167" width="1" height="25" fill="#00ff00"/>
<rect x="1086" y="172" width="3" height="11" fill="#00ff00"/>
<rect x="1091" y="172" width="1" height="16" fill="#ff0000"/>
<rect x="1090" y="172" width="3" height="16" fill="#ff0000"/>
<rect x="1095" y="155" width="1" height="34" fill="#ff0000"/>
<rect x="1094" y="159" width="3" height="15" fill="#ff0000"/>
<rect x="1099" y="152" width="1" height="32" fill="#00ff00"/>
<rect x="1098" y="159" width="3" height="12" fill="#00ff00"/>
<rect x="1103" y="154" width="1" height="22" fill="#ff0000"/>
<rect x="1102" y="156" width="3" height="15" fill="#ff0000"/>
<rect x="1107" y="133" width="1" height="28" fill="#ff0000"/>
<rect x="1106" y="146" width="3" height="11" fill="#ff0000"/>
<rect x="1111" y="126" width="1" height="26" fill="#ff0000"/>
<rect x="1110" y="129" width="3" height="17" fill="#ff0000"/>
<rect x="1115" y="126" width="1" height="7" fill="#00ff00"/>
<rect x="1114" y="129" width="3" height="3" fill="#00ff00"/>
<rect x="1119" y="114" width="1" height="31" fill="#00ff00"/>
<rect x="1118" y="135" width="3" height="6" fill="#00ff00"/>
<rect x="1123" y="136" width="1" height="21" fill="#00ff00"/>
<rect x="1122" y="140" width="3" height="16" fill="#00ff00"/>
<rect x="1127" y="140" width="1" height="31" fill="#00ff00"/>
<rect x="1126" y="154" width="3" height="2" fill="#00ff00"/>
<rect x="1131" y="131" width="1" height="39" fill="#ff0000"/>
<rect x="1130" y="136" width="3" height="30" fill="#ff0000"/>
<rect x="1135" y="90" width="1" height="50" fill="#ff0000"/>
<rect x="1134" y="110" width="3" height="26" fill="#ff0000"/>
<rect x="1139" y="105" width="1" height="9" fill="#00ff00"/>
<rect x="1138" y="110" width="3" height="4" fill="#00ff00"/>
<rect x="1143" y="98" width="1" height="17" fill="#00ff00"/>
<rect x="1142" y="106" width="3" height="6" fill="#00ff00"/>
<rect x="1147" y="107" width="1" height="19" fill="#00ff00"/>
<rect x="1146" y="107" width="3" height="5" fill="#00ff00"/>
<rect x="1151" y="52" width="1" height="70" fill="#ff0000"/>
<rect x="1150" y="60" width="3" height="52" fill="#ff0000"/>
<rect x="1155" y="59" width="1" height="42" fill="#00ff00"/>
<rect x="1154" y="60" width="3" height="39" fill="#00ff00"/>
<rect x="1159" y="75" width="1" height="31" fill="#ff0000"/>
<rect x="1158" y="92" width="3" height="8" fill="#ff0000"/>
<rect x="1163" y="85" width="1" height="18" fill="#00ff00"/>
<rect x="1162" y="93" width="3" height="9" fill="#00ff00"/>
<rect x="1167" y="106" width="1" height="33" fill="#00ff00"/>
<rect x="1166" y="122" width="3" height="4" fill="#00ff00"/>
<rect x="1171" y="123" width="1" height="43" fill="#00ff00"/>
<rect x="1170" y="124" width="3" height="31" fill="#00ff00"/>
<rect x="1175" y="138" width="1" height="46" fill="#ff0000"/>
<rect x="1174" y="148" width="3" height="7" fill="#ff0000"/>
<rect x="1179" y="137" width="1" height="18" fill="#ff0000"/>
<rect x="1178" y="142" width="3" height="7" fill="#ff0000"/>
</g>
<g shape-rendering="crispEdges">
<path d="M234 87h5v1h-5zM1162 93h2v1h-2zM222 94h4v1h-4zM1160 94h2v1h-2zM1164 94h2v1h-2zM226 95h2v1h-2zM1158 95h2v1h-2zM1156 96h2v1h-2zM1152 99h2v1h-2zM334 115h3v1h-3zM332 116h2v1h-2zM358 134h2v1h-2zM1078 134h2v1h-2zM356 135h2v1h-2zM348 136h2v1h-2zM354 136h2v1h-2zM350 137h4v1h-4zM928 139h4v1h-4zM1118 141h4v1h-4zM1122 142h2v1h-2zM1124 143h2v1h-2zM1126 144h2v1h-2zM1128 145h2v1h-2zM964 161h4v1h-4zM962 162h2v1h-2zM968 162h2v1h-2zM970 163h2v1h-2zM946 164h6v1h-6zM972 164h2v1h-2zM952 165h2v1h-2zM956 168h3v1h-3zM1096 171h4v1h-4zM1044 174h2v1h-2zM1042 175h2v1h-2zM1040 176h2v1h-2zM1048 177h2v1h-2zM1036 179h2v1h-2zM1034 180h2v1h-2zM159 184h2v1h-2zM1056 186h2v1h-2zM380 190h4v1h-4zM384 191h12v1h-12zM154 192h2v1h-2zM152 193h2v1h-2zM150 194h2v1h-2zM408 204h2v1h-2zM414 209h2v1h-2zM418 212h2v1h-2zM422 215h2v1h-2zM426 218h2v1h-2zM428 219h2v1h-2zM282 220h2v1h-2zM432 222h2v1h-2zM434 223h2v1h-2zM1000 228h2v1h-2zM554 231h6v1h-6zM178 237h3v1h-3zM516 244h4v1h-4zM514 245h2v1h-2zM568 245h2v1h-2zM512 246h2v1h-2zM570 246h2v1h-2zM522 247h2v1h-2zM572 247h3v1h-3zM834 249h3v1h-3zM530 254h2v1h-2zM540 256h2v1h-2zM534 257h2v1h-2zM538 257h2v1h-2zM536 258h2v1h-2zM498 268h2v1h-2zM496 269h2v1h-2zM492 270h4v1h-4zM488 271h4v1h-4zM486 272h2v1h-2zM484 273h2v1h-2zM616 286h8v1h-8zM614 287h2v1h-2zM598 291h6v1h-6zM628 291h2v1h-2zM760 291h2v1h-2zM604 292h2v1h-2zM762 292h2v1h-2zM606 293h4v1h-4zM594 294h2v1h-2zM466 298h2v1h-2zM470 298h2v1h-2zM468 299h2v1h-2zM770 300h2v1h-2zM772 301h2v1h-2zM774 302h8v1h-8zM782 303h6v1h-6zM788 304h4v1h-4zM802 311h2v1h-2zM796 312h2v1h-2zM800 312h2v1h-2zM798 313h2v1h-2zM652 330h2v1h-2zM654 331h2v1h-2zM656 332h2v1h-2zM658 333h2v1h-2zM660 334h2v1h-2zM662 335h2v1h-2zM664 336h2v1h-2zM874 371h3v1h-3zM42 424h6v1h-6zM40 425h2v1h-2zM48 425h2v1h-2zM38 426h2v1h-2zM36 427h2v1h-2zM88 432h2v1h-2zM86 433h2v1h-2zM90 433h2v1h-2zM84 434h2v1h-2zM92 434h2v1h-2zM82 435h2v1h-2zM94 435h2v1h-2zM112 435h2v1h-2zM80 436h2v1h-2zM96 436h2v1h-2zM110 436h2v1h-2zM76 437h4v1h-4zM98 437h2v1h-2zM106 437h4v1h-4zM28 438h2v1h-2zM72 438h4v1h-4zM100 438h6v1h-6zM62 439h10v1h-10zM4 440h6v1h-6zM2 441h2v1h-2zM24 441h2v1h-2zM22 442h2v1h-2zM20 443h2v1h-2zM708 443h2v1h-2zM14 445h5v1h-5zM233 88h1v1h-1zM239 88h1v1h-1zM232 89h1v1h-1zM240 89h1v1h-1zM231 90h1v1h-1zM241 90h1v2h-1zM230 91h1v1h-1zM229 92h1v2h-1zM242 92h1v2h-1zM228 94h1v1h-1zM243 94h1v2h-1zM221 95h1v1h-1zM1166 95h1v2h-1zM220 96h1v1h-1zM244 96h1v3h-1zM219 97h1v1h-1zM1155 97h1v1h-1zM1167 97h1v4h-1zM218 98h1v1h-1zM1154 98h1v1h-1zM217 99h1v2h-1zM245 99h1v4h-1zM1151 100h1v1h-1zM216 101h1v2h-1zM1150 101h1v2h-1zM1168 101h1v4h-1zM215 103h1v2h-1zM246 103h1v4h-1zM1149 103h1v3h-1zM214 105h1v3h-1zM1169 105h1v5h-1zM1148 106h1v4h-1zM247 107h1v4h-1zM213 108h1v4h-1zM1147 110h1v6h-1zM1170 110h1v4h-1zM248 111h1v4h-1zM212 112h1v5h-1zM1171 114h1v3h-1zM249 115h1v4h-1zM337 116h1v2h-1zM1146 116h1v4h-1zM211 117h1v4h-1zM331 117h1v1h-1zM1172 117h1v3h-1zM330 118h1v1h-1zM338 118h1v1h-1zM250 119h1v5h-1zM329 119h1v2h-1zM339 119h1v2h-1zM1145 120h1v2h-1zM1173 120h1v2h-1zM210 121h1v5h-1zM328 121h1v1h-1zM340 121h1v2h-1zM327 122h1v1h-1zM1144 122h1v2h-1zM1174 122h1v3h-1zM326 123h1v1h-1zM341 123h1v2h-1zM251 124h1v5h-1zM325 124h1v2h-1zM1143 124h1v2h-1zM342 125h1v2h-1zM1175 125h1v2h-1zM209 126h1v6h-1zM324 126h1v1h-1zM1142 126h1v1h-1zM323 127h1v1h-1zM343 127h1v2h-1zM1141 127h1v2h-1zM1176 127h1v3h-1zM322 128h1v1h-1zM252 129h1v5h-1zM321 129h1v2h-1zM344 129h1v2h-1zM1140 129h1v2h-1zM1177 130h1v2h-1zM320 131h1v1h-1zM345 131h1v2h-1zM1139 131h1v2h-1zM208 132h1v5h-1zM319 132h1v2h-1zM1178 132h1v1h-1zM346 133h1v1h-1zM1138 133h1v2h-1zM1179 133h1v1h-1zM253 134h1v4h-1zM318 134h1v3h-1zM347 134h1v2h-1zM360 135h1v1h-1zM1077 135h1v2h-1zM1080 135h1v2h-1zM1137 135h1v2h-1zM361 136h1v1h-1zM207 137h1v6h-1zM317 137h1v2h-1zM362 137h1v1h-1zM1076 137h1v3h-1zM1081 137h1v2h-1zM1136 137h1v2h-1zM254 138h1v3h-1zM363 138h1v2h-1zM316 139h1v2h-1zM1082 139h1v2h-1zM1135 139h1v2h-1zM364 140h1v2h-1zM927 140h1v2h-1zM932 140h1v1h-1zM1075 140h1v2h-1zM255 141h1v2h-1zM315 141h1v2h-1zM933 141h1v1h-1zM1083 141h1v2h-1zM1134 141h1v1h-1zM365 142h1v2h-1zM926 142h1v2h-1zM934 142h1v1h-1zM1074 142h1v3h-1zM1117 142h1v1h-1zM1133 142h1v2h-1zM206 143h1v6h-1zM256 143h1v2h-1zM314 143h1v2h-1zM935 143h1v2h-1zM1084 143h1v3h-1zM1116 143h1v1h-1zM366 144h1v4h-1zM925 144h1v4h-1zM1115 144h1v2h-1zM1132 144h1v1h-1zM257 145h1v2h-1zM313 145h1v2h-1zM936 145h1v2h-1zM1073 145h1v3h-1zM1131 145h1v1h-1zM1085 146h1v3h-1zM1114 146h1v1h-1zM1130 146h1v1h-1zM258 147h1v1h-1zM312 147h1v2h-1zM937 147h1v2h-1zM1113 147h1v2h-1zM259 148h1v2h-1zM367 148h1v4h-1zM924 148h1v5h-1zM1072 148h1v3h-1zM205 149h1v6h-1zM311 149h1v2h-1zM938 149h1v3h-1zM1086 149h1v3h-1zM1112 149h1v1h-1zM260 150h1v2h-1zM1111 150h1v2h-1zM310 151h1v1h-1zM1071 151h1v4h-1zM261 152h1v2h-1zM309 152h1v2h-1zM368 152h1v3h-1zM939 152h1v2h-1zM1087 152h1v4h-1zM1110 152h1v2h-1zM923 153h1v7h-1zM262 154h1v3h-1zM308 154h1v2h-1zM940 154h1v2h-1zM1109 154h1v2h-1zM204 155h1v6h-1zM369 155h1v4h-1zM1070 155h1v3h-1zM307 156h1v2h-1zM941 156h1v2h-1zM1088 156h1v3h-1zM1108 156h1v2h-1zM263 157h1v3h-1zM306 158h1v2h-1zM942 158h1v2h-1zM1069 158h1v2h-1zM1107 158h1v2h-1zM370 159h1v4h-1zM1089 159h1v2h-1zM264 160h1v3h-1zM305 160h1v2h-1zM922 160h1v7h-1zM943 160h1v2h-1zM1068 160h1v3h-1zM1106 160h1v2h-1zM203 161h1v6h-1zM1090 161h1v3h-1zM304 162h1v3h-1zM944 162h1v1h-1zM1105 162h1v2h-1zM265 163h1v4h-1zM371 163h1v4h-1zM945 163h1v1h-1zM961 163h1v2h-1zM1067 163h1v3h-1zM1091 164h1v2h-1zM1104 164h1v2h-1zM303 165h1v3h-1zM960 165h1v2h-1zM974 165h1v1h-1zM954 166h1v1h-1zM975 166h1v1h-1zM1066 166h1v3h-1zM1092 166h1v1h-1zM1103 166h1v2h-1zM202 167h1v6h-1zM266 167h1v3h-1zM372 167h1v3h-1zM921 167h1v7h-1zM955 167h1v1h-1zM959 167h1v1h-1zM976 167h1v1h-1zM1093 167h1v2h-1zM302 168h1v3h-1zM977 168h1v1h-1zM1102 168h1v1h-1zM978 169h1v1h-1zM1065 169h1v2h-1zM1094 169h1v1h-1zM1101 169h1v1h-1zM267 170h1v4h-1zM373 170h1v4h-1zM979 170h1v2h-1zM1095 170h1v1h-1zM1100 170h1v1h-1zM301 171h1v2h-1zM1064 171h1v3h-1zM980 172h1v2h-1zM201 173h1v6h-1zM300 173h1v3h-1zM268 174h1v4h-1zM374 174h1v3h-1zM920 174h1v7h-1zM981 174h1v2h-1zM1063 174h1v3h-1zM1046 175h1v1h-1zM299 176h1v2h-1zM982 176h1v3h-1zM1047 176h1v1h-1zM375 177h1v3h-1zM1039 177h1v1h-1zM1062 177h1v3h-1zM269 178h1v4h-1zM298 178h1v2h-1zM1038 178h1v1h-1zM1050 178h1v1h-1zM200 179h1v6h-1zM983 179h1v4h-1zM1051 179h1v2h-1zM297 180h1v2h-1zM376 180h1v3h-1zM1061 180h1v3h-1zM919 181h1v8h-1zM1033 181h1v1h-1zM1052 181h1v1h-1zM270 182h1v3h-1zM296 182h1v3h-1zM1032 182h1v1h-1zM1053 182h1v1h-1zM160 183h1v1h-1zM160 185h1v1h-1zM377 183h1v3h-1zM984 183h1v3h-1zM1031 183h1v1h-1zM1054 183h1v1h-1zM1060 183h1v2h-1zM1030 184h1v1h-1zM1055 184h1v2h-1zM158 185h1v2h-1zM199 185h1v6h-1zM271 185h1v4h-1zM295 185h1v2h-1zM1029 185h1v1h-1zM1059 185h1v2h-1zM161 186h1v4h-1zM378 186h1v2h-1zM985 186h1v4h-1zM1028 186h1v1h-1zM157 187h1v3h-1zM294 187h1v3h-1zM1027 187h1v2h-1zM1058 187h1v1h-1zM379 188h1v2h-1zM272 189h1v4h-1zM918 189h1v7h-1zM1026 189h1v1h-1zM156 190h1v2h-1zM162 190h1v4h-1zM293 190h1v3h-1zM986 190h1v4h-1zM1025 190h1v2h-1zM198 191h1v4h-1zM396 192h1v1h-1zM1024 192h1v1h-1zM273 193h1v4h-1zM292 193h1v3h-1zM397 193h1v1h-1zM1023 193h1v2h-1zM163 194h1v4h-1zM398 194h1v1h-1zM987 194h1v4h-1zM150 195h1v1h-1zM197 195h1v4h-1zM399 195h1v1h-1zM1022 195h1v1h-1zM149 196h1v4h-1zM291 196h1v4h-1zM400 196h1v1h-1zM917 196h1v8h-1zM1021 196h1v2h-1zM274 197h1v3h-1zM401 197h1v1h-1zM164 198h1v3h-1zM402 198h1v1h-1zM988 198h1v5h-1zM1020 198h1v1h-1zM196 199h1v4h-1zM403 199h1v1h-1zM1019 199h1v2h-1zM148 200h1v4h-1zM275 200h1v3h-1zM290 200h1v5h-1zM404 200h1v1h-1zM165 201h1v2h-1zM405 201h1v1h-1zM1018 201h1v1h-1zM406 202h1v1h-1zM1017 202h1v2h-1zM166 203h1v3h-1zM195 203h1v4h-1zM276 203h1v3h-1zM407 203h1v1h-1zM989 203h1v4h-1zM147 204h1v6h-1zM916 204h1v7h-1zM1016 204h1v1h-1zM289 205h1v4h-1zM410 205h1v1h-1zM1015 205h1v2h-1zM167 206h1v2h-1zM277 206h1v4h-1zM411 206h1v1h-1zM194 207h1v4h-1zM412 207h1v1h-1zM990 207h1v4h-1zM1014 207h1v1h-1zM168 208h1v2h-1zM413 208h1v1h-1zM1013 208h1v2h-1zM288 209h1v4h-1zM146 210h1v7h-1zM169 210h1v2h-1zM278 210h1v3h-1zM416 210h1v1h-1zM1012 210h1v2h-1zM193 211h1v3h-1zM417 211h1v1h-1zM915 211h1v7h-1zM991 211h1v4h-1zM170 212h1v2h-1zM1011 212h1v2h-1zM279 213h1v3h-1zM287 213h1v2h-1zM420 213h1v1h-1zM171 214h1v3h-1zM192 214h1v2h-1zM421 214h1v1h-1zM1010 214h1v2h-1zM286 215h1v2h-1zM992 215h1v3h-1zM191 216h1v2h-1zM280 216h1v2h-1zM424 216h1v1h-1zM1009 216h1v2h-1zM145 217h1v7h-1zM172 217h1v3h-1zM285 217h1v2h-1zM425 217h1v1h-1zM190 218h1v2h-1zM281 218h1v2h-1zM914 218h1v7h-1zM993 218h1v2h-1zM1008 218h1v2h-1zM284 219h1v1h-1zM173 220h1v4h-1zM189 220h1v1h-1zM430 220h1v1h-1zM994 220h1v2h-1zM1007 220h1v2h-1zM188 221h1v1h-1zM431 221h1v1h-1zM187 222h1v1h-1zM995 222h1v2h-1zM1006 222h1v2h-1zM186 223h1v1h-1zM144 224h1v8h-1zM174 224h1v3h-1zM185 224h1v1h-1zM436 224h1v1h-1zM996 224h1v1h-1zM1005 224h1v2h-1zM184 225h1v2h-1zM437 225h1v1h-1zM913 225h1v6h-1zM997 225h1v1h-1zM438 226h1v1h-1zM998 226h1v1h-1zM1004 226h1v2h-1zM175 227h1v4h-1zM183 227h1v3h-1zM439 227h1v2h-1zM999 227h1v1h-1zM1003 228h1v1h-1zM440 229h1v1h-1zM1002 229h1v1h-1zM182 230h1v3h-1zM441 230h1v2h-1zM176 231h1v3h-1zM912 231h1v6h-1zM143 232h1v8h-1zM442 232h1v2h-1zM553 232h1v1h-1zM560 232h1v1h-1zM181 233h1v3h-1zM552 233h1v1h-1zM561 233h1v1h-1zM177 234h1v2h-1zM443 234h1v2h-1zM551 234h1v1h-1zM562 234h1v1h-1zM550 235h1v1h-1zM563 235h1v2h-1zM178 236h1v1h-1zM180 236h1v1h-1zM444 236h1v2h-1zM549 236h1v2h-1zM564 237h1v2h-1zM911 237h1v6h-1zM445 238h1v2h-1zM548 238h1v2h-1zM565 239h1v2h-1zM142 240h1v9h-1zM446 240h1v2h-1zM547 240h1v3h-1zM566 241h1v2h-1zM447 242h1v2h-1zM546 243h1v3h-1zM567 243h1v2h-1zM910 243h1v6h-1zM448 244h1v2h-1zM520 245h1v1h-1zM449 246h1v2h-1zM521 246h1v1h-1zM545 246h1v4h-1zM511 247h1v2h-1zM450 248h1v3h-1zM524 248h1v1h-1zM574 248h1v1h-1zM141 249h1v10h-1zM510 249h1v1h-1zM525 249h1v1h-1zM575 249h1v2h-1zM909 249h1v4h-1zM509 250h1v2h-1zM526 250h1v1h-1zM544 250h1v2h-1zM833 250h1v1h-1zM837 250h1v2h-1zM451 251h1v3h-1zM527 251h1v1h-1zM576 251h1v2h-1zM832 251h1v1h-1zM508 252h1v1h-1zM528 252h1v1h-1zM543 252h1v2h-1zM831 252h1v1h-1zM838 252h1v1h-1zM507 253h1v2h-1zM529 253h1v1h-1zM577 253h1v3h-1zM830 253h1v1h-1zM839 253h1v2h-1zM908 253h1v4h-1zM452 254h1v3h-1zM542 254h1v2h-1zM829 254h1v2h-1zM506 255h1v3h-1zM532 255h1v1h-1zM840 255h1v2h-1zM533 256h1v1h-1zM578 256h1v3h-1zM828 256h1v1h-1zM453 257h1v4h-1zM827 257h1v2h-1zM841 257h1v2h-1zM907 257h1v4h-1zM505 258h1v2h-1zM140 259h1v11h-1zM579 259h1v3h-1zM826 259h1v3h-1zM842 259h1v2h-1zM504 260h1v2h-1zM454 261h1v3h-1zM843 261h1v2h-1zM906 261h1v3h-1zM503 262h1v2h-1zM580 262h1v3h-1zM825 262h1v2h-1zM844 263h1v3h-1zM455 264h1v3h-1zM502 264h1v2h-1zM824 264h1v3h-1zM905 264h1v3h-1zM581 265h1v2h-1zM501 266h1v1h-1zM845 266h1v4h-1zM456 267h1v3h-1zM500 267h1v1h-1zM582 267h1v1h-1zM823 267h1v3h-1zM904 267h1v3h-1zM583 268h1v2h-1zM139 270h1v11h-1zM457 270h1v3h-1zM584 270h1v2h-1zM822 270h1v3h-1zM846 270h1v3h-1zM903 270h1v3h-1zM585 272h1v2h-1zM458 273h1v3h-1zM821 273h1v3h-1zM847 273h1v3h-1zM902 273h1v3h-1zM483 274h1v2h-1zM586 274h1v2h-1zM459 276h1v4h-1zM482 276h1v1h-1zM587 276h1v2h-1zM820 276h1v3h-1zM848 276h1v3h-1zM901 276h1v4h-1zM481 277h1v2h-1zM588 278h1v3h-1zM480 279h1v2h-1zM819 279h1v3h-1zM849 279h1v3h-1zM460 280h1v3h-1zM900 280h1v3h-1zM138 281h1v12h-1zM479 281h1v2h-1zM589 281h1v4h-1zM818 282h1v3h-1zM850 282h1v3h-1zM461 283h1v3h-1zM478 283h1v3h-1zM899 283h1v3h-1zM590 285h1v3h-1zM817 285h1v2h-1zM851 285h1v4h-1zM462 286h1v3h-1zM477 286h1v3h-1zM898 286h1v3h-1zM624 287h1v1h-1zM816 287h1v3h-1zM591 288h1v3h-1zM613 288h1v1h-1zM625 288h1v1h-1zM463 289h1v3h-1zM476 289h1v3h-1zM612 289h1v1h-1zM626 289h1v1h-1zM852 289h1v3h-1zM897 289h1v4h-1zM611 290h1v2h-1zM627 290h1v1h-1zM815 290h1v2h-1zM592 291h1v2h-1zM464 292h1v3h-1zM475 292h1v2h-1zM597 292h1v1h-1zM610 292h1v1h-1zM630 292h1v1h-1zM759 292h1v2h-1zM814 292h1v3h-1zM853 292h1v3h-1zM137 293h1v12h-1zM593 293h1v1h-1zM596 293h1v1h-1zM631 293h1v1h-1zM764 293h1v1h-1zM896 293h1v4h-1zM474 294h1v2h-1zM632 294h1v1h-1zM758 294h1v2h-1zM765 294h1v1h-1zM465 295h1v2h-1zM633 295h1v1h-1zM766 295h1v1h-1zM813 295h1v2h-1zM854 295h1v3h-1zM473 296h1v1h-1zM634 296h1v1h-1zM757 296h1v2h-1zM767 296h1v1h-1zM466 297h1v1h-1zM472 297h1v1h-1zM635 297h1v1h-1zM768 297h1v1h-1zM812 297h1v2h-1zM895 297h1v4h-1zM636 298h1v1h-1zM756 298h1v3h-1zM769 298h1v2h-1zM855 298h1v4h-1zM637 299h1v2h-1zM811 299h1v2h-1zM638 301h1v2h-1zM755 301h1v2h-1zM810 301h1v1h-1zM894 301h1v6h-1zM809 302h1v2h-1zM856 302h1v4h-1zM639 303h1v2h-1zM754 303h1v2h-1zM808 304h1v2h-1zM136 305h1v12h-1zM640 305h1v2h-1zM753 305h1v2h-1zM792 305h1v1h-1zM793 306h1v2h-1zM807 306h1v2h-1zM857 306h1v4h-1zM641 307h1v2h-1zM752 307h1v3h-1zM893 307h1v6h-1zM794 308h1v2h-1zM806 308h1v1h-1zM642 309h1v3h-1zM805 309h1v1h-1zM751 310h1v2h-1zM795 310h1v2h-1zM804 310h1v1h-1zM858 310h1v5h-1zM643 312h1v2h-1zM750 312h1v3h-1zM892 313h1v7h-1zM644 314h1v2h-1zM749 315h1v2h-1zM859 315h1v5h-1zM645 316h1v2h-1zM135 317h1v10h-1zM748 317h1v3h-1zM646 318h1v2h-1zM647 320h1v2h-1zM747 320h1v3h-1zM860 320h1v5h-1zM891 320h1v8h-1zM648 322h1v2h-1zM746 323h1v3h-1zM649 324h1v2h-1zM861 325h1v6h-1zM650 326h1v2h-1zM745 326h1v3h-1zM134 327h1v10h-1zM651 328h1v2h-1zM890 328h1v7h-1zM744 329h1v3h-1zM862 331h1v5h-1zM743 332h1v3h-1zM742 335h1v3h-1zM889 335h1v6h-1zM863 336h1v4h-1zM133 337h1v9h-1zM666 337h1v1h-1zM667 338h1v1h-1zM741 338h1v4h-1zM668 339h1v1h-1zM669 340h1v1h-1zM864 340h1v5h-1zM670 341h1v2h-1zM888 341h1v5h-1zM740 342h1v3h-1zM671 343h1v2h-1zM672 345h1v2h-1zM739 345h1v4h-1zM865 345h1v4h-1zM132 346h1v9h-1zM887 346h1v4h-1zM673 347h1v3h-1zM738 349h1v3h-1zM866 349h1v3h-1zM674 350h1v3h-1zM886 350h1v4h-1zM737 352h1v3h-1zM867 352h1v4h-1zM675 353h1v4h-1zM885 354h1v3h-1zM131 355h1v9h-1zM736 355h1v3h-1zM868 356h1v3h-1zM676 357h1v3h-1zM884 357h1v2h-1zM735 358h1v4h-1zM869 359h1v2h-1zM883 359h1v2h-1zM677 360h1v4h-1zM870 361h1v3h-1zM882 361h1v2h-1zM734 362h1v4h-1zM881 363h1v2h-1zM130 364h1v10h-1zM678 364h1v3h-1zM871 364h1v2h-1zM880 365h1v2h-1zM733 366h1v4h-1zM872 366h1v3h-1zM679 367h1v4h-1zM879 367h1v2h-1zM873 369h1v2h-1zM878 369h1v1h-1zM732 370h1v3h-1zM877 370h1v1h-1zM680 371h1v4h-1zM731 373h1v4h-1zM129 374h1v10h-1zM681 375h1v4h-1zM730 377h1v4h-1zM682 379h1v3h-1zM729 381h1v4h-1zM683 382h1v4h-1zM128 384h1v9h-1zM728 385h1v5h-1zM684 386h1v3h-1zM685 389h1v4h-1zM727 390h1v4h-1zM127 393h1v8h-1zM686 393h1v3h-1zM726 394h1v5h-1zM687 396h1v2h-1zM688 398h1v3h-1zM725 399h1v5h-1zM126 401h1v7h-1zM689 401h1v2h-1zM690 403h1v3h-1zM724 404h1v5h-1zM691 406h1v2h-1zM125 408h1v6h-1zM692 408h1v3h-1zM723 409h1v4h-1zM693 411h1v2h-1zM694 413h1v3h-1zM722 413h1v4h-1zM124 414h1v4h-1zM695 416h1v3h-1zM721 417h1v4h-1zM123 418h1v4h-1zM696 419h1v3h-1zM720 421h1v3h-1zM122 422h1v2h-1zM697 422h1v3h-1zM121 424h1v2h-1zM719 424h1v4h-1zM698 425h1v3h-1zM50 426h1v1h-1zM120 426h1v1h-1zM51 427h1v1h-1zM119 427h1v2h-1zM35 428h1v2h-1zM52 428h1v1h-1zM699 428h1v2h-1zM718 428h1v3h-1zM53 429h1v1h-1zM118 429h1v1h-1zM34 430h1v1h-1zM54 430h1v1h-1zM117 430h1v1h-1zM700 430h1v3h-1zM33 431h1v2h-1zM55 431h1v1h-1zM116 431h1v1h-1zM717 431h1v3h-1zM56 432h1v1h-1zM115 432h1v2h-1zM32 433h1v2h-1zM57 433h1v1h-1zM701 433h1v2h-1zM58 434h1v1h-1zM114 434h1v1h-1zM716 434h1v2h-1zM31 435h1v2h-1zM59 435h1v2h-1zM702 435h1v1h-1zM703 436h1v2h-1zM715 436h1v2h-1zM30 437h1v1h-1zM60 437h1v1h-1zM61 438h1v1h-1zM704 438h1v1h-1zM714 438h1v2h-1zM27 439h1v1h-1zM705 439h1v2h-1zM26 440h1v1h-1zM713 440h1v2h-1zM10 441h1v1h-1zM706 441h1v1h-1zM11 442h1v1h-1zM707 442h1v1h-1zM712 442h1v1h-1zM12 443h1v1h-1zM711 443h1v1h-1zM13 444h1v1h-1zM19 444h1v1h-1zM710 444h1v1h-1z" fill="#ffa500"/>
<path d="M248 108h8v1h-8zM246 109h2v1h-2zM256 109h2v1h-2zM1162 118h8v1h-8zM1160 119h2v1h-2zM1170 119h2v1h-2zM1176 119h3v1h-3zM1172 120h4v1h-4zM356 128h4v1h-4zM360 129h3v1h-3zM348 136h2v1h-2zM346 137h2v1h-2zM342 138h4v1h-4zM340 139h2v1h-2zM1114 149h6v1h-6zM1120 150h2v1h-2zM1122 151h4v1h-4zM1126 152h2v1h-2zM1128 153h2v1h-2zM1130 154h2v1h-2zM964 156h6v1h-6zM962 157h2v1h-2zM970 157h2v1h-2zM972 158h2v1h-2zM1096 162h6v1h-6zM1088 163h8v1h-8zM1080 164h8v1h-8zM1078 165h2v1h-2zM1076 166h2v1h-2zM1072 169h2v1h-2zM398 173h2v1h-2zM318 177h2v1h-2zM314 179h3v1h-3zM312 180h2v1h-2zM308 181h4v1h-4zM306 182h2v1h-2zM304 183h2v1h-2zM296 184h8v1h-8zM1052 190h2v1h-2zM1048 193h2v1h-2zM1004 194h2v1h-2zM1006 195h2v1h-2zM1008 196h2v1h-2zM1044 196h2v1h-2zM1010 197h2v1h-2zM414 198h2v1h-2zM1012 198h2v1h-2zM416 199h2v1h-2zM418 200h2v1h-2zM420 201h2v1h-2zM1016 201h2v1h-2zM1038 201h2v1h-2zM422 202h4v1h-4zM426 203h2v1h-2zM428 204h2v1h-2zM1020 204h2v1h-2zM1034 204h2v1h-2zM1022 205h4v1h-4zM196 206h2v1h-2zM1026 206h7v1h-7zM194 207h2v1h-2zM192 208h2v1h-2zM440 216h2v1h-2zM552 244h8v1h-8zM550 245h2v1h-2zM560 245h4v1h-4zM548 246h2v1h-2zM564 246h4v1h-4zM568 247h6v1h-6zM574 248h4v1h-4zM578 249h4v1h-4zM582 250h2v1h-2zM584 251h2v1h-2zM588 254h2v1h-2zM540 255h2v1h-2zM536 256h4v1h-4zM532 257h4v1h-4zM528 258h4v1h-4zM524 259h4v1h-4zM522 260h2v1h-2zM474 263h2v1h-2zM518 263h2v1h-2zM484 272h2v1h-2zM606 273h2v1h-2zM506 275h2v1h-2zM846 276h4v1h-4zM490 277h2v1h-2zM502 277h3v1h-3zM844 277h2v1h-2zM850 277h4v1h-4zM492 278h2v1h-2zM498 278h4v1h-4zM842 278h2v1h-2zM494 279h4v1h-4zM614 280h2v1h-2zM836 283h2v1h-2zM834 284h2v1h-2zM620 285h2v1h-2zM832 285h2v1h-2zM622 286h2v1h-2zM830 286h2v1h-2zM624 287h2v1h-2zM828 287h2v1h-2zM626 288h2v1h-2zM826 288h2v1h-2zM628 289h4v1h-4zM824 289h2v1h-2zM632 290h2v1h-2zM634 291h2v1h-2zM636 292h2v1h-2zM640 295h2v1h-2zM644 298h2v1h-2zM646 299h2v1h-2zM650 302h2v1h-2zM792 302h12v1h-12zM652 303h2v1h-2zM788 303h4v1h-4zM804 303h6v1h-6zM654 304h2v1h-2zM786 304h2v1h-2zM810 304h5v1h-5zM784 305h2v1h-2zM782 306h2v1h-2zM900 327h3v1h-3zM896 328h4v1h-4zM894 329h2v1h-2zM892 330h2v1h-2zM886 331h6v1h-6zM718 412h2v1h-2zM730 412h2v1h-2zM720 413h4v1h-4zM728 413h2v1h-2zM724 414h4v1h-4zM116 433h2v1h-2zM84 434h8v1h-8zM114 434h2v1h-2zM40 435h18v1h-18zM82 435h2v1h-2zM92 435h22v1h-22zM38 436h2v1h-2zM58 436h4v1h-4zM80 436h2v1h-2zM36 437h2v1h-2zM62 437h2v1h-2zM72 437h8v1h-8zM64 438h8v1h-8zM22 439h2v1h-2zM24 440h2v1h-2zM32 440h2v1h-2zM26 441h6v1h-6zM245 110h1v1h-1zM258 110h1v1h-1zM244 111h1v1h-1zM259 111h1v1h-1zM243 112h1v1h-1zM260 112h1v1h-1zM242 113h1v1h-1zM261 113h1v2h-1zM241 114h1v2h-1zM262 115h1v2h-1zM240 116h1v1h-1zM239 117h1v2h-1zM263 117h1v2h-1zM238 119h1v1h-1zM264 119h1v2h-1zM237 120h1v2h-1zM1159 120h1v1h-1zM265 121h1v2h-1zM1158 121h1v1h-1zM236 122h1v2h-1zM1157 122h1v2h-1zM266 123h1v2h-1zM235 124h1v2h-1zM1156 124h1v1h-1zM267 125h1v2h-1zM1155 125h1v1h-1zM234 126h1v3h-1zM1154 126h1v1h-1zM268 127h1v3h-1zM1153 127h1v1h-1zM1152 128h1v1h-1zM233 129h1v4h-1zM355 129h1v1h-1zM1151 129h1v2h-1zM269 130h1v2h-1zM354 130h1v1h-1zM363 130h1v1h-1zM353 131h1v1h-1zM364 131h1v1h-1zM1150 131h1v1h-1zM270 132h1v3h-1zM352 132h1v1h-1zM365 132h1v1h-1zM1149 132h1v2h-1zM232 133h1v3h-1zM351 133h1v2h-1zM366 133h1v1h-1zM367 134h1v2h-1zM1148 134h1v1h-1zM271 135h1v4h-1zM350 135h1v1h-1zM1147 135h1v2h-1zM231 136h1v3h-1zM368 136h1v1h-1zM369 137h1v1h-1zM1146 137h1v1h-1zM370 138h1v1h-1zM1145 138h1v2h-1zM230 139h1v2h-1zM272 139h1v3h-1zM371 139h1v2h-1zM339 140h1v1h-1zM1144 140h1v1h-1zM229 141h1v2h-1zM338 141h1v1h-1zM372 141h1v1h-1zM1143 141h1v2h-1zM273 142h1v2h-1zM337 142h1v1h-1zM373 142h1v2h-1zM228 143h1v3h-1zM336 143h1v1h-1zM1142 143h1v1h-1zM274 144h1v3h-1zM335 144h1v1h-1zM374 144h1v1h-1zM1141 144h1v1h-1zM334 145h1v1h-1zM375 145h1v2h-1zM1140 145h1v1h-1zM227 146h1v2h-1zM333 146h1v2h-1zM1139 146h1v1h-1zM275 147h1v2h-1zM376 147h1v1h-1zM1138 147h1v1h-1zM226 148h1v3h-1zM332 148h1v2h-1zM377 148h1v1h-1zM1137 148h1v1h-1zM276 149h1v2h-1zM378 149h1v1h-1zM1136 149h1v1h-1zM331 150h1v3h-1zM379 150h1v1h-1zM1113 150h1v1h-1zM1135 150h1v1h-1zM225 151h1v2h-1zM277 151h1v2h-1zM380 151h1v1h-1zM1112 151h1v1h-1zM1134 151h1v1h-1zM381 152h1v1h-1zM1111 152h1v1h-1zM1133 152h1v1h-1zM224 153h1v3h-1zM278 153h1v2h-1zM330 153h1v3h-1zM382 153h1v1h-1zM1110 153h1v1h-1zM1132 153h1v1h-1zM383 154h1v1h-1zM1109 154h1v1h-1zM279 155h1v2h-1zM384 155h1v1h-1zM1108 155h1v1h-1zM223 156h1v3h-1zM329 156h1v2h-1zM385 156h1v2h-1zM1107 156h1v1h-1zM280 157h1v1h-1zM1106 157h1v1h-1zM281 158h1v2h-1zM328 158h1v2h-1zM386 158h1v1h-1zM961 158h1v1h-1zM1105 158h1v1h-1zM222 159h1v3h-1zM387 159h1v2h-1zM960 159h1v1h-1zM974 159h1v1h-1zM1104 159h1v1h-1zM282 160h1v1h-1zM327 160h1v2h-1zM959 160h1v2h-1zM975 160h1v1h-1zM1103 160h1v1h-1zM283 161h1v2h-1zM388 161h1v1h-1zM976 161h1v2h-1zM1102 161h1v1h-1zM221 162h1v3h-1zM326 162h1v2h-1zM389 162h1v1h-1zM958 162h1v1h-1zM284 163h1v2h-1zM390 163h1v1h-1zM957 163h1v2h-1zM977 163h1v2h-1zM325 164h1v2h-1zM391 164h1v2h-1zM220 165h1v3h-1zM285 165h1v2h-1zM956 165h1v2h-1zM978 165h1v2h-1zM324 166h1v2h-1zM392 166h1v1h-1zM286 167h1v2h-1zM393 167h1v1h-1zM955 167h1v2h-1zM979 167h1v2h-1zM1075 167h1v1h-1zM219 168h1v3h-1zM323 168h1v2h-1zM394 168h1v1h-1zM1074 168h1v1h-1zM287 169h1v2h-1zM395 169h1v2h-1zM954 169h1v2h-1zM980 169h1v1h-1zM322 170h1v3h-1zM981 170h1v1h-1zM1071 170h1v1h-1zM218 171h1v3h-1zM288 171h1v2h-1zM396 171h1v1h-1zM953 171h1v2h-1zM982 171h1v1h-1zM1070 171h1v1h-1zM397 172h1v1h-1zM983 172h1v1h-1zM1069 172h1v1h-1zM289 173h1v2h-1zM321 173h1v2h-1zM952 173h1v2h-1zM984 173h1v1h-1zM1068 173h1v1h-1zM217 174h1v2h-1zM400 174h1v1h-1zM985 174h1v1h-1zM1067 174h1v1h-1zM290 175h1v1h-1zM320 175h1v2h-1zM401 175h1v1h-1zM951 175h1v2h-1zM986 175h1v1h-1zM1066 175h1v1h-1zM216 176h1v2h-1zM291 176h1v2h-1zM402 176h1v1h-1zM987 176h1v1h-1zM1065 176h1v1h-1zM403 177h1v2h-1zM950 177h1v2h-1zM988 177h1v1h-1zM1064 177h1v1h-1zM215 178h1v2h-1zM292 178h1v1h-1zM317 178h1v1h-1zM989 178h1v1h-1zM1063 178h1v2h-1zM293 179h1v2h-1zM404 179h1v1h-1zM949 179h1v2h-1zM990 179h1v1h-1zM214 180h1v2h-1zM405 180h1v2h-1zM991 180h1v1h-1zM1062 180h1v1h-1zM294 181h1v1h-1zM948 181h1v1h-1zM992 181h1v1h-1zM1061 181h1v1h-1zM213 182h1v2h-1zM295 182h1v2h-1zM406 182h1v2h-1zM947 182h1v2h-1zM993 182h1v1h-1zM1060 182h1v1h-1zM994 183h1v1h-1zM1059 183h1v2h-1zM212 184h1v2h-1zM407 184h1v2h-1zM946 184h1v1h-1zM995 184h1v2h-1zM945 185h1v1h-1zM1058 185h1v1h-1zM211 186h1v2h-1zM408 186h1v2h-1zM944 186h1v1h-1zM996 186h1v1h-1zM1057 186h1v1h-1zM943 187h1v2h-1zM997 187h1v1h-1zM1056 187h1v1h-1zM210 188h1v2h-1zM409 188h1v2h-1zM998 188h1v1h-1zM1055 188h1v1h-1zM942 189h1v3h-1zM999 189h1v1h-1zM1054 189h1v1h-1zM209 190h1v2h-1zM410 190h1v2h-1zM1000 190h1v1h-1zM1001 191h1v1h-1zM1051 191h1v1h-1zM208 192h1v1h-1zM411 192h1v2h-1zM941 192h1v2h-1zM1002 192h1v1h-1zM1050 192h1v1h-1zM207 193h1v2h-1zM1003 193h1v1h-1zM412 194h1v2h-1zM940 194h1v3h-1zM1047 194h1v1h-1zM206 195h1v1h-1zM1046 195h1v1h-1zM205 196h1v2h-1zM413 196h1v2h-1zM939 197h1v4h-1zM1043 197h1v1h-1zM204 198h1v1h-1zM1042 198h1v1h-1zM203 199h1v2h-1zM1014 199h1v1h-1zM1041 199h1v1h-1zM1015 200h1v1h-1zM1040 200h1v1h-1zM202 201h1v1h-1zM938 201h1v3h-1zM201 202h1v1h-1zM1018 202h1v1h-1zM1037 202h1v1h-1zM200 203h1v1h-1zM1019 203h1v1h-1zM1036 203h1v1h-1zM199 204h1v1h-1zM937 204h1v4h-1zM198 205h1v1h-1zM430 205h1v1h-1zM1033 205h1v1h-1zM431 206h1v1h-1zM432 207h1v1h-1zM433 208h1v1h-1zM936 208h1v3h-1zM191 209h1v1h-1zM434 209h1v1h-1zM190 210h1v1h-1zM435 210h1v1h-1zM189 211h1v1h-1zM436 211h1v1h-1zM935 211h1v4h-1zM188 212h1v1h-1zM437 212h1v2h-1zM187 213h1v1h-1zM186 214h1v1h-1zM438 214h1v1h-1zM185 215h1v2h-1zM439 215h1v1h-1zM934 215h1v3h-1zM184 217h1v1h-1zM442 217h1v1h-1zM183 218h1v2h-1zM443 218h1v1h-1zM933 218h1v4h-1zM444 219h1v1h-1zM182 220h1v1h-1zM445 220h1v1h-1zM181 221h1v2h-1zM446 221h1v1h-1zM447 222h1v2h-1zM932 222h1v3h-1zM180 223h1v2h-1zM448 224h1v1h-1zM179 225h1v2h-1zM449 225h1v2h-1zM931 225h1v4h-1zM178 227h1v2h-1zM450 227h1v1h-1zM451 228h1v2h-1zM177 229h1v2h-1zM930 229h1v4h-1zM452 230h1v1h-1zM176 231h1v3h-1zM453 231h1v2h-1zM454 233h1v2h-1zM929 233h1v4h-1zM175 234h1v2h-1zM455 235h1v2h-1zM174 236h1v3h-1zM456 237h1v1h-1zM928 237h1v3h-1zM457 238h1v2h-1zM173 239h1v3h-1zM458 240h1v2h-1zM927 240h1v4h-1zM172 242h1v3h-1zM459 242h1v2h-1zM460 244h1v1h-1zM926 244h1v3h-1zM171 245h1v3h-1zM461 245h1v2h-1zM462 247h1v2h-1zM547 247h1v1h-1zM925 247h1v3h-1zM170 248h1v3h-1zM546 248h1v1h-1zM463 249h1v2h-1zM545 249h1v1h-1zM544 250h1v1h-1zM924 250h1v3h-1zM169 251h1v3h-1zM464 251h1v1h-1zM543 251h1v2h-1zM465 252h1v2h-1zM586 252h1v1h-1zM542 253h1v2h-1zM587 253h1v1h-1zM923 253h1v4h-1zM168 254h1v3h-1zM466 254h1v1h-1zM467 255h1v1h-1zM590 255h1v1h-1zM468 256h1v1h-1zM591 256h1v1h-1zM167 257h1v4h-1zM469 257h1v2h-1zM592 257h1v1h-1zM922 257h1v5h-1zM593 258h1v1h-1zM470 259h1v1h-1zM594 259h1v1h-1zM471 260h1v1h-1zM595 260h1v1h-1zM166 261h1v3h-1zM472 261h1v1h-1zM521 261h1v1h-1zM596 261h1v1h-1zM473 262h1v1h-1zM520 262h1v1h-1zM597 262h1v1h-1zM921 262h1v4h-1zM598 263h1v1h-1zM165 264h1v4h-1zM476 264h1v1h-1zM517 264h1v1h-1zM599 264h1v2h-1zM477 265h1v1h-1zM516 265h1v1h-1zM478 266h1v1h-1zM515 266h1v1h-1zM600 266h1v1h-1zM920 266h1v5h-1zM479 267h1v1h-1zM514 267h1v1h-1zM601 267h1v1h-1zM164 268h1v4h-1zM480 268h1v1h-1zM513 268h1v2h-1zM602 268h1v1h-1zM481 269h1v1h-1zM603 269h1v2h-1zM482 270h1v1h-1zM512 270h1v1h-1zM483 271h1v1h-1zM511 271h1v1h-1zM604 271h1v1h-1zM919 271h1v5h-1zM163 272h1v4h-1zM510 272h1v1h-1zM605 272h1v1h-1zM486 273h1v1h-1zM509 273h1v1h-1zM487 274h1v1h-1zM508 274h1v1h-1zM608 274h1v1h-1zM488 275h1v1h-1zM609 275h1v1h-1zM162 276h1v4h-1zM489 276h1v1h-1zM505 276h1v1h-1zM610 276h1v1h-1zM918 276h1v5h-1zM611 277h1v1h-1zM612 278h1v1h-1zM854 278h1v1h-1zM613 279h1v1h-1zM841 279h1v1h-1zM855 279h1v1h-1zM161 280h1v4h-1zM840 280h1v1h-1zM856 280h1v1h-1zM616 281h1v1h-1zM839 281h1v1h-1zM857 281h1v1h-1zM917 281h1v4h-1zM617 282h1v1h-1zM838 282h1v1h-1zM858 282h1v1h-1zM618 283h1v1h-1zM859 283h1v2h-1zM160 284h1v4h-1zM619 284h1v1h-1zM860 285h1v2h-1zM916 285h1v5h-1zM861 287h1v2h-1zM159 288h1v4h-1zM862 289h1v1h-1zM823 290h1v2h-1zM863 290h1v2h-1zM915 290h1v4h-1zM158 292h1v3h-1zM822 292h1v1h-1zM864 292h1v1h-1zM638 293h1v1h-1zM821 293h1v2h-1zM865 293h1v2h-1zM639 294h1v1h-1zM914 294h1v5h-1zM157 295h1v4h-1zM820 295h1v2h-1zM866 295h1v2h-1zM642 296h1v1h-1zM643 297h1v1h-1zM819 297h1v2h-1zM867 297h1v2h-1zM156 299h1v4h-1zM818 299h1v1h-1zM868 299h1v2h-1zM913 299h1v5h-1zM648 300h1v1h-1zM817 300h1v2h-1zM649 301h1v1h-1zM869 301h1v2h-1zM816 302h1v1h-1zM155 303h1v4h-1zM815 303h1v1h-1zM870 303h1v2h-1zM912 304h1v4h-1zM656 305h1v1h-1zM871 305h1v2h-1zM657 306h1v1h-1zM154 307h1v5h-1zM658 307h1v1h-1zM781 307h1v2h-1zM872 307h1v1h-1zM659 308h1v1h-1zM873 308h1v2h-1zM911 308h1v4h-1zM660 309h1v1h-1zM780 309h1v1h-1zM661 310h1v1h-1zM779 310h1v2h-1zM874 310h1v2h-1zM662 311h1v1h-1zM153 312h1v4h-1zM663 312h1v1h-1zM778 312h1v1h-1zM875 312h1v2h-1zM910 312h1v4h-1zM664 313h1v1h-1zM777 313h1v2h-1zM665 314h1v1h-1zM876 314h1v2h-1zM666 315h1v1h-1zM776 315h1v1h-1zM152 316h1v4h-1zM667 316h1v2h-1zM775 316h1v2h-1zM877 316h1v2h-1zM909 316h1v2h-1zM668 318h1v1h-1zM774 318h1v2h-1zM878 318h1v2h-1zM908 318h1v2h-1zM669 319h1v2h-1zM151 320h1v4h-1zM773 320h1v2h-1zM879 320h1v2h-1zM907 320h1v2h-1zM670 321h1v1h-1zM671 322h1v2h-1zM772 322h1v2h-1zM880 322h1v1h-1zM906 322h1v2h-1zM881 323h1v2h-1zM150 324h1v4h-1zM672 324h1v1h-1zM771 324h1v2h-1zM905 324h1v1h-1zM673 325h1v2h-1zM882 325h1v2h-1zM904 325h1v1h-1zM770 326h1v2h-1zM903 326h1v1h-1zM674 327h1v2h-1zM883 327h1v2h-1zM149 328h1v4h-1zM769 328h1v2h-1zM675 329h1v2h-1zM884 329h1v1h-1zM768 330h1v2h-1zM885 330h1v1h-1zM676 331h1v1h-1zM148 332h1v5h-1zM677 332h1v2h-1zM767 332h1v2h-1zM678 334h1v2h-1zM766 334h1v2h-1zM679 336h1v2h-1zM765 336h1v2h-1zM147 337h1v4h-1zM680 338h1v1h-1zM764 338h1v2h-1zM681 339h1v2h-1zM763 340h1v2h-1zM146 341h1v5h-1zM682 341h1v2h-1zM762 342h1v2h-1zM683 343h1v2h-1zM761 344h1v2h-1zM684 345h1v2h-1zM145 346h1v5h-1zM760 346h1v2h-1zM685 347h1v2h-1zM759 348h1v2h-1zM686 349h1v3h-1zM758 350h1v3h-1zM144 351h1v5h-1zM687 352h1v2h-1zM757 353h1v2h-1zM688 354h1v2h-1zM756 355h1v3h-1zM143 356h1v4h-1zM689 356h1v3h-1zM755 358h1v3h-1zM690 359h1v3h-1zM142 360h1v5h-1zM754 361h1v3h-1zM691 362h1v2h-1zM692 364h1v3h-1zM753 364h1v3h-1zM141 365h1v4h-1zM693 367h1v2h-1zM752 367h1v3h-1zM140 369h1v5h-1zM694 369h1v2h-1zM751 370h1v3h-1zM695 371h1v2h-1zM696 373h1v2h-1zM750 373h1v3h-1zM139 374h1v4h-1zM697 375h1v2h-1zM749 376h1v2h-1zM698 377h1v1h-1zM138 378h1v5h-1zM699 378h1v2h-1zM748 378h1v3h-1zM700 380h1v2h-1zM747 381h1v2h-1zM701 382h1v2h-1zM137 383h1v5h-1zM746 383h1v2h-1zM702 384h1v1h-1zM703 385h1v2h-1zM745 385h1v2h-1zM704 387h1v2h-1zM744 387h1v3h-1zM136 388h1v5h-1zM705 389h1v2h-1zM743 390h1v2h-1zM706 391h1v2h-1zM742 392h1v3h-1zM135 393h1v4h-1zM707 393h1v2h-1zM708 395h1v2h-1zM741 395h1v3h-1zM134 397h1v4h-1zM709 397h1v2h-1zM740 398h1v2h-1zM710 399h1v1h-1zM711 400h1v2h-1zM739 400h1v2h-1zM133 401h1v4h-1zM712 402h1v2h-1zM738 402h1v2h-1zM713 404h1v2h-1zM737 404h1v2h-1zM132 405h1v4h-1zM714 406h1v2h-1zM736 406h1v2h-1zM715 408h1v2h-1zM735 408h1v1h-1zM131 409h1v3h-1zM734 409h1v1h-1zM716 410h1v1h-1zM733 410h1v1h-1zM717 411h1v1h-1zM732 411h1v1h-1zM130 412h1v3h-1zM2 413h1v1h-1zM3 414h1v2h-1zM129 415h1v2h-1zM4 416h1v1h-1zM5 417h1v1h-1zM128 417h1v2h-1zM6 418h1v1h-1zM7 419h1v2h-1zM127 419h1v2h-1zM8 421h1v1h-1zM126 421h1v2h-1zM9 422h1v1h-1zM10 423h1v1h-1zM125 423h1v2h-1zM11 424h1v2h-1zM124 425h1v1h-1zM12 426h1v1h-1zM123 426h1v2h-1zM13 427h1v2h-1zM122 428h1v1h-1zM14 429h1v1h-1zM121 429h1v1h-1zM15 430h1v1h-1zM120 430h1v1h-1zM16 431h1v1h-1zM119 431h1v1h-1zM17 432h1v2h-1zM118 432h1v1h-1zM18 434h1v1h-1zM19 435h1v2h-1zM20 437h1v1h-1zM21 438h1v1h-1zM35 438h1v1h-1zM34 439h1v1h-1z" fill="#ff0000"/>
<path d="M1176 135h2v1h-2zM1174 136h2v1h-2zM1172 137h2v1h-2zM1168 138h4v1h-4zM1166 139h2v1h-2zM1164 140h2v1h-2zM1162 141h2v1h-2zM1160 142h2v1h-2zM318 143h7v1h-7zM1158 143h2v1h-2zM314 144h4v1h-4zM312 145h2v1h-2zM326 145h4v1h-4zM310 146h2v1h-2zM330 146h8v1h-8zM1154 146h2v1h-2zM308 147h2v1h-2zM338 147h3v1h-3zM306 148h2v1h-2zM304 149h2v1h-2zM342 149h2v1h-2zM1150 149h2v1h-2zM302 150h2v1h-2zM344 150h2v1h-2zM1148 150h2v1h-2zM298 151h4v1h-4zM346 151h2v1h-2zM296 152h2v1h-2zM348 152h2v1h-2zM294 153h2v1h-2zM350 153h4v1h-4zM1144 153h2v1h-2zM354 154h4v1h-4zM1142 154h2v1h-2zM358 155h4v1h-4zM1140 155h2v1h-2zM290 156h2v1h-2zM362 156h4v1h-4zM260 157h9v1h-9zM288 157h2v1h-2zM366 157h4v1h-4zM256 158h4v1h-4zM286 158h2v1h-2zM370 158h2v1h-2zM390 158h18v1h-18zM1136 158h2v1h-2zM254 159h2v1h-2zM270 159h2v1h-2zM284 159h2v1h-2zM372 159h2v1h-2zM388 159h2v1h-2zM408 159h4v1h-4zM1134 159h2v1h-2zM252 160h2v1h-2zM282 160h2v1h-2zM374 160h2v1h-2zM412 160h2v1h-2zM250 161h2v1h-2zM376 161h4v1h-4zM414 161h2v1h-2zM274 162h2v1h-2zM380 162h6v1h-6zM416 162h2v1h-2zM1130 162h2v1h-2zM276 163h4v1h-4zM418 163h2v1h-2zM1128 163h2v1h-2zM1124 166h2v1h-2zM1122 167h2v1h-2zM1120 168h2v1h-2zM1116 171h2v1h-2zM1114 172h2v1h-2zM1110 175h2v1h-2zM432 176h2v1h-2zM436 179h3v1h-3zM1028 179h6v1h-6zM1026 180h2v1h-2zM1104 180h2v1h-2zM1024 181h2v1h-2zM1102 181h2v1h-2zM1036 182h2v1h-2zM1100 182h2v1h-2zM1038 183h2v1h-2zM1074 183h14v1h-14zM1098 183h2v1h-2zM1020 184h2v1h-2zM1040 184h4v1h-4zM1070 184h4v1h-4zM1088 184h10v1h-10zM1018 185h2v1h-2zM1044 185h2v1h-2zM1066 185h4v1h-4zM1016 186h2v1h-2zM1046 186h4v1h-4zM1064 186h2v1h-2zM1014 187h2v1h-2zM1050 187h4v1h-4zM1062 187h2v1h-2zM1012 188h2v1h-2zM1054 188h8v1h-8zM1010 189h2v1h-2zM1008 190h2v1h-2zM1004 193h2v1h-2zM480 232h2v1h-2zM484 235h2v1h-2zM488 238h2v1h-2zM490 239h2v1h-2zM492 240h2v1h-2zM494 241h2v1h-2zM496 242h2v1h-2zM498 243h2v1h-2zM500 244h2v1h-2zM502 245h2v1h-2zM504 246h2v1h-2zM506 247h4v1h-4zM510 248h2v1h-2zM512 249h2v1h-2zM514 250h2v1h-2zM516 251h2v1h-2zM518 252h2v1h-2zM954 252h2v1h-2zM520 253h2v1h-2zM952 253h2v1h-2zM522 254h2v1h-2zM950 254h2v1h-2zM524 255h2v1h-2zM526 256h2v1h-2zM528 257h2v1h-2zM576 257h16v1h-16zM946 257h2v1h-2zM530 258h4v1h-4zM574 258h2v1h-2zM592 258h4v1h-4zM944 258h2v1h-2zM534 259h4v1h-4zM572 259h2v1h-2zM596 259h6v1h-6zM942 259h2v1h-2zM538 260h34v1h-34zM602 260h10v1h-10zM940 260h2v1h-2zM612 261h4v1h-4zM616 262h4v1h-4zM620 263h2v1h-2zM936 263h2v1h-2zM622 264h4v1h-4zM626 265h2v1h-2zM628 266h2v1h-2zM932 266h2v1h-2zM630 267h2v1h-2zM632 268h2v1h-2zM634 269h2v1h-2zM636 270h2v1h-2zM638 271h2v1h-2zM640 272h2v1h-2zM642 273h2v1h-2zM644 274h2v1h-2zM648 277h2v1h-2zM652 280h2v1h-2zM656 283h2v1h-2zM658 284h2v1h-2zM848 292h10v1h-10zM846 293h2v1h-2zM858 293h2v1h-2zM860 294h2v1h-2zM862 295h2v1h-2zM842 296h2v1h-2zM840 297h2v1h-2zM866 298h2v1h-2zM870 301h2v1h-2zM902 303h4v1h-4zM896 304h6v1h-6zM892 305h4v1h-4zM876 306h4v1h-4zM890 306h2v1h-2zM880 307h2v1h-2zM888 307h2v1h-2zM882 308h6v1h-6zM708 347h2v1h-2zM718 357h2v1h-2zM792 357h2v1h-2zM720 358h2v1h-2zM790 358h2v1h-2zM784 359h6v1h-6zM778 360h6v1h-6zM724 361h2v1h-2zM774 361h4v1h-4zM726 362h2v1h-2zM770 362h4v1h-4zM768 363h2v1h-2zM764 364h4v1h-4zM730 365h4v1h-4zM762 365h2v1h-2zM734 366h2v1h-2zM758 366h4v1h-4zM736 367h2v1h-2zM754 367h4v1h-4zM738 368h2v1h-2zM750 368h4v1h-4zM740 369h10v1h-10zM2 394h2v1h-2zM4 395h2v1h-2zM6 396h4v1h-4zM10 397h2v1h-2zM12 398h4v1h-4zM16 399h2v1h-2zM18 400h2v1h-2zM20 401h2v1h-2zM22 402h2v1h-2zM24 403h2v1h-2zM26 404h2v1h-2zM28 405h2v1h-2zM30 406h2v1h-2zM32 407h4v1h-4zM36 408h2v1h-2zM38 409h4v1h-4zM42 410h2v1h-2zM44 411h2v1h-2zM46 412h2v1h-2zM50 415h2v1h-2zM54 418h2v1h-2zM56 419h2v1h-2zM58 420h2v1h-2zM62 423h2v1h-2zM64 424h2v1h-2zM66 425h2v1h-2zM68 426h2v1h-2zM70 427h2v1h-2zM72 428h2v1h-2zM74 429h2v1h-2zM76 430h2v1h-2zM78 431h2v1h-2zM80 432h2v1h-2zM82 433h2v1h-2zM120 433h4v1h-4zM84 434h2v1h-2zM116 434h4v1h-4zM86 435h4v1h-4zM110 435h6v1h-6zM90 436h2v1h-2zM104 436h6v1h-6zM92 437h12v1h-12zM1178 134h1v1h-1zM325 144h1v1h-1zM1157 144h1v1h-1zM1156 145h1v1h-1zM1153 147h1v1h-1zM341 148h1v1h-1zM1152 148h1v1h-1zM1147 151h1v1h-1zM1146 152h1v1h-1zM293 154h1v1h-1zM292 155h1v1h-1zM1139 156h1v1h-1zM1138 157h1v1h-1zM269 158h1v1h-1zM272 160h1v1h-1zM387 160h1v1h-1zM1133 160h1v1h-1zM273 161h1v1h-1zM281 161h1v1h-1zM386 161h1v1h-1zM1132 161h1v1h-1zM249 162h1v1h-1zM280 162h1v1h-1zM248 163h1v1h-1zM247 164h1v2h-1zM420 164h1v1h-1zM1127 164h1v1h-1zM421 165h1v1h-1zM1126 165h1v1h-1zM246 166h1v1h-1zM422 166h1v1h-1zM245 167h1v2h-1zM423 167h1v1h-1zM424 168h1v1h-1zM244 169h1v1h-1zM425 169h1v1h-1zM1119 169h1v1h-1zM243 170h1v2h-1zM426 170h1v1h-1zM1118 170h1v1h-1zM427 171h1v1h-1zM242 172h1v2h-1zM428 172h1v1h-1zM429 173h1v1h-1zM1113 173h1v1h-1zM241 174h1v2h-1zM430 174h1v1h-1zM1112 174h1v1h-1zM431 175h1v1h-1zM240 176h1v3h-1zM1109 176h1v1h-1zM434 177h1v1h-1zM1108 177h1v1h-1zM435 178h1v1h-1zM1107 178h1v1h-1zM239 179h1v2h-1zM1106 179h1v1h-1zM439 180h1v1h-1zM1034 180h1v1h-1zM238 181h1v3h-1zM440 181h1v1h-1zM1035 181h1v1h-1zM441 182h1v1h-1zM1023 182h1v1h-1zM442 183h1v1h-1zM1022 183h1v1h-1zM237 184h1v2h-1zM443 184h1v1h-1zM444 185h1v1h-1zM236 186h1v3h-1zM445 186h1v2h-1zM446 188h1v1h-1zM235 189h1v2h-1zM447 189h1v2h-1zM234 191h1v3h-1zM448 191h1v1h-1zM1007 191h1v1h-1zM449 192h1v1h-1zM1006 192h1v1h-1zM450 193h1v1h-1zM233 194h1v3h-1zM451 194h1v2h-1zM1003 194h1v1h-1zM1002 195h1v1h-1zM452 196h1v1h-1zM1001 196h1v1h-1zM232 197h1v3h-1zM453 197h1v1h-1zM1000 197h1v1h-1zM454 198h1v1h-1zM999 198h1v2h-1zM455 199h1v2h-1zM231 200h1v2h-1zM998 200h1v1h-1zM456 201h1v1h-1zM997 201h1v1h-1zM230 202h1v3h-1zM457 202h1v1h-1zM996 202h1v1h-1zM458 203h1v1h-1zM995 203h1v1h-1zM459 204h1v2h-1zM994 204h1v1h-1zM229 205h1v3h-1zM993 205h1v2h-1zM460 206h1v1h-1zM461 207h1v2h-1zM992 207h1v1h-1zM228 208h1v3h-1zM991 208h1v1h-1zM462 209h1v1h-1zM990 209h1v1h-1zM463 210h1v1h-1zM989 210h1v2h-1zM227 211h1v2h-1zM464 211h1v1h-1zM465 212h1v2h-1zM988 212h1v1h-1zM226 213h1v3h-1zM987 213h1v1h-1zM466 214h1v1h-1zM986 214h1v1h-1zM467 215h1v2h-1zM985 215h1v2h-1zM225 216h1v3h-1zM468 217h1v1h-1zM984 217h1v1h-1zM469 218h1v2h-1zM983 218h1v1h-1zM224 219h1v3h-1zM982 219h1v1h-1zM470 220h1v1h-1zM981 220h1v2h-1zM471 221h1v2h-1zM223 222h1v3h-1zM980 222h1v1h-1zM472 223h1v1h-1zM979 223h1v2h-1zM473 224h1v1h-1zM222 225h1v3h-1zM474 225h1v1h-1zM978 225h1v1h-1zM475 226h1v2h-1zM977 226h1v1h-1zM976 227h1v1h-1zM221 228h1v2h-1zM476 228h1v1h-1zM975 228h1v2h-1zM477 229h1v1h-1zM220 230h1v3h-1zM478 230h1v1h-1zM974 230h1v1h-1zM479 231h1v1h-1zM973 231h1v2h-1zM219 233h1v3h-1zM482 233h1v1h-1zM972 233h1v1h-1zM483 234h1v1h-1zM971 234h1v1h-1zM970 235h1v1h-1zM218 236h1v3h-1zM486 236h1v1h-1zM969 236h1v2h-1zM487 237h1v1h-1zM968 238h1v1h-1zM217 239h1v3h-1zM967 239h1v1h-1zM966 240h1v1h-1zM965 241h1v2h-1zM216 242h1v3h-1zM964 243h1v1h-1zM963 244h1v1h-1zM215 245h1v2h-1zM962 245h1v1h-1zM961 246h1v1h-1zM214 247h1v3h-1zM960 247h1v1h-1zM959 248h1v1h-1zM958 249h1v1h-1zM213 250h1v3h-1zM957 250h1v1h-1zM956 251h1v1h-1zM212 253h1v3h-1zM949 255h1v1h-1zM211 256h1v3h-1zM948 256h1v1h-1zM210 259h1v3h-1zM939 261h1v1h-1zM209 262h1v3h-1zM938 262h1v1h-1zM935 264h1v1h-1zM208 265h1v3h-1zM934 265h1v1h-1zM931 267h1v1h-1zM207 268h1v4h-1zM930 268h1v1h-1zM929 269h1v1h-1zM928 270h1v1h-1zM927 271h1v2h-1zM206 272h1v3h-1zM926 273h1v1h-1zM925 274h1v1h-1zM205 275h1v4h-1zM646 275h1v1h-1zM924 275h1v1h-1zM647 276h1v1h-1zM923 276h1v2h-1zM650 278h1v1h-1zM922 278h1v1h-1zM204 279h1v3h-1zM651 279h1v1h-1zM921 279h1v1h-1zM920 280h1v1h-1zM654 281h1v1h-1zM919 281h1v2h-1zM203 282h1v4h-1zM655 282h1v1h-1zM918 283h1v1h-1zM917 284h1v2h-1zM660 285h1v1h-1zM202 286h1v3h-1zM661 286h1v1h-1zM916 286h1v2h-1zM662 287h1v1h-1zM663 288h1v1h-1zM915 288h1v2h-1zM201 289h1v3h-1zM664 289h1v1h-1zM665 290h1v2h-1zM914 290h1v2h-1zM200 292h1v2h-1zM666 292h1v1h-1zM913 292h1v2h-1zM667 293h1v2h-1zM199 294h1v2h-1zM845 294h1v1h-1zM912 294h1v2h-1zM668 295h1v1h-1zM844 295h1v1h-1zM198 296h1v2h-1zM669 296h1v2h-1zM864 296h1v1h-1zM911 296h1v2h-1zM865 297h1v1h-1zM197 298h1v2h-1zM670 298h1v1h-1zM839 298h1v1h-1zM910 298h1v1h-1zM671 299h1v1h-1zM838 299h1v1h-1zM868 299h1v1h-1zM909 299h1v1h-1zM196 300h1v2h-1zM672 300h1v1h-1zM837 300h1v2h-1zM869 300h1v1h-1zM908 300h1v1h-1zM673 301h1v1h-1zM907 301h1v1h-1zM195 302h1v2h-1zM674 302h1v1h-1zM836 302h1v1h-1zM872 302h1v1h-1zM906 302h1v1h-1zM675 303h1v2h-1zM835 303h1v1h-1zM873 303h1v1h-1zM194 304h1v2h-1zM834 304h1v1h-1zM874 304h1v1h-1zM676 305h1v1h-1zM833 305h1v1h-1zM875 305h1v1h-1zM193 306h1v2h-1zM677 306h1v1h-1zM832 306h1v1h-1zM678 307h1v1h-1zM831 307h1v2h-1zM192 308h1v1h-1zM679 308h1v2h-1zM191 309h1v2h-1zM830 309h1v1h-1zM680 310h1v1h-1zM829 310h1v2h-1zM190 311h1v2h-1zM681 311h1v1h-1zM682 312h1v1h-1zM828 312h1v1h-1zM189 313h1v2h-1zM683 313h1v2h-1zM827 313h1v1h-1zM826 314h1v1h-1zM188 315h1v2h-1zM684 315h1v1h-1zM825 315h1v2h-1zM685 316h1v1h-1zM187 317h1v2h-1zM686 317h1v1h-1zM824 317h1v1h-1zM687 318h1v2h-1zM823 318h1v2h-1zM186 319h1v2h-1zM688 320h1v1h-1zM822 320h1v1h-1zM185 321h1v2h-1zM689 321h1v2h-1zM821 321h1v2h-1zM184 323h1v3h-1zM690 323h1v1h-1zM820 323h1v2h-1zM691 324h1v1h-1zM692 325h1v1h-1zM819 325h1v2h-1zM183 326h1v2h-1zM693 326h1v2h-1zM818 327h1v1h-1zM182 328h1v2h-1zM694 328h1v1h-1zM817 328h1v2h-1zM695 329h1v2h-1zM181 330h1v2h-1zM816 330h1v1h-1zM696 331h1v1h-1zM815 331h1v2h-1zM180 332h1v2h-1zM697 332h1v2h-1zM814 333h1v2h-1zM179 334h1v2h-1zM698 334h1v1h-1zM699 335h1v2h-1zM813 335h1v1h-1zM178 336h1v2h-1zM812 336h1v1h-1zM700 337h1v1h-1zM811 337h1v2h-1zM177 338h1v2h-1zM701 338h1v2h-1zM810 339h1v1h-1zM176 340h1v2h-1zM702 340h1v1h-1zM809 340h1v1h-1zM703 341h1v2h-1zM808 341h1v1h-1zM175 342h1v2h-1zM807 342h1v2h-1zM704 343h1v1h-1zM174 344h1v2h-1zM705 344h1v1h-1zM806 344h1v1h-1zM706 345h1v1h-1zM805 345h1v1h-1zM173 346h1v2h-1zM707 346h1v1h-1zM804 346h1v1h-1zM803 347h1v1h-1zM172 348h1v2h-1zM710 348h1v1h-1zM802 348h1v1h-1zM711 349h1v1h-1zM801 349h1v1h-1zM171 350h1v2h-1zM712 350h1v1h-1zM800 350h1v1h-1zM713 351h1v2h-1zM799 351h1v1h-1zM170 352h1v1h-1zM798 352h1v1h-1zM169 353h1v2h-1zM714 353h1v1h-1zM797 353h1v1h-1zM715 354h1v1h-1zM796 354h1v1h-1zM168 355h1v2h-1zM716 355h1v1h-1zM795 355h1v1h-1zM717 356h1v1h-1zM794 356h1v1h-1zM167 357h1v2h-1zM166 359h1v1h-1zM722 359h1v1h-1zM165 360h1v2h-1zM723 360h1v1h-1zM164 362h1v1h-1zM163 363h1v1h-1zM728 363h1v1h-1zM162 364h1v1h-1zM729 364h1v1h-1zM161 365h1v1h-1zM160 366h1v1h-1zM159 367h1v1h-1zM158 368h1v1h-1zM157 369h1v2h-1zM156 371h1v1h-1zM155 372h1v2h-1zM154 374h1v1h-1zM153 375h1v2h-1zM152 377h1v3h-1zM151 380h1v2h-1zM150 382h1v3h-1zM149 385h1v2h-1zM148 387h1v3h-1zM147 390h1v2h-1zM146 392h1v2h-1zM145 394h1v2h-1zM144 396h1v2h-1zM143 398h1v2h-1zM142 400h1v2h-1zM141 402h1v2h-1zM140 404h1v3h-1zM139 407h1v2h-1zM138 409h1v2h-1zM137 411h1v2h-1zM48 413h1v1h-1zM136 413h1v2h-1zM49 414h1v1h-1zM135 415h1v2h-1zM52 416h1v1h-1zM53 417h1v1h-1zM134 417h1v2h-1zM133 419h1v2h-1zM60 421h1v1h-1zM132 421h1v2h-1zM61 422h1v1h-1zM131 423h1v2h-1zM130 425h1v1h-1zM129 426h1v2h-1zM128 428h1v1h-1zM127 429h1v1h-1zM126 430h1v1h-1zM125 431h1v1h-1zM124 432h1v1h-1z" fill="#0000cd"/>
</g>
<g shape-rendering="crispEdges">
<rect x="3" y="43" width="1484" height="2" fill="#ff0000"/>
<rect x="3" y="166" width="1484" height="2" fill="#00ff00"/>
<rect x="3" y="288" width="1484" height="2" fill="#0000ff"/>
<rect x="3" y="431" width="1484" height="2" fill="#0000ff"/>
<line x1="5" y1="533.5" x2="1487" y2="533.5" stroke="#c0c0c0" stroke-width="1" stroke-dasharray="3 3"/>
<line x1="5" y1="567.5" x2="1487" y2="567.5" stroke="#c0c0c0" stroke-width="1" stroke-dasharray="3 3"/>
<rect x="3" y="648" width="1" height="5" fill="#c0c0c0"/>
<rect x="7" y="648" width="1" height="6" fill="#c0c0c0"/>
<rect x="11" y="648" width="1" height="6" fill="#c0c0c0"/>
<rect x="15" y="648" width="1" height="7" fill="#c0c0c0"/>
<rect x="19" y="648" width="1" height="6" fill="#c0c0c0"/>
<rect x="23" y="648" width="1" height="5" fill="#c0c0c0"/>
<rect x="27" y="648" width="1" height="4" fill="#c0c0c0"/>
<rect x="31" y="648" width="1" height="4" fill="#c0c0c0"/>
<rect x="35" y="648" width="1" height="4" fill="#c0c0c0"/>
<rect x="39" y="648" width="1" height="4" fill="#c0c0c0"/>
<rect x="43" y="648" width="1" height="4" fill="#c0c0c0"/>
<rect x="47" y="648" width="1" height="4" fill="#c0c0c0"/>
<rect x="51" y="648" width="1" height="4" fill="#c0c0c0"/>
<rect x="55" y="648" width="1" height="3" fill="#c0c0c0"/>
<rect x="59" y="648" width="1" height="3" fill="#c0c0c0"/>
<rect x="63" y="648" width="1" height="3" fill="#c0c0c0"/>
<rect x="67" y="648" width="1" height="3" fill="#c0c0c0"/>
<rect x="71" y="648" width="1" height="3" fill="#c0c0c0"/>
<rect x="75" y="648" width="1" height="3" fill="#c0c0c0"/>
<rect x="79" y="648" width="1" height="3" fill="#c0c0c0"/>
<rect x="83" y="648" width="1" height="3" fill="#c0c0c0"/>
<rect x="87" y="648" width="1" height="2" fill="#c0c0c0"/>
<rect x="91" y="648" width="1" height="2" fill="#c0c0c0"/>
<rect x="95" y="648" width="1" height="2" fill="#c0c0c0"/>
<rect x="99" y="648" width="1" height="2" fill="#c0c0c0"/>
<rect x="103" y="648" width="1" height="2" fill="#c0c0c0"/>
<rect x="107" y="648" width="1" height="2" fill="#c0c0c0"/>
<rect x="111" y="648" width="1" height="2" fill="#c0c0c0"/>
<rect x="115" y="648" width="1" height="2" fill="#c0c0c0"/>
<rect x="119" y="648" width="1" height="2" fill="#c0c0c0"/>
<rect x="123" y="648" width="1" height="1" fill="#c0c0c0"/>
<rect x="127" y="642" width="1" height="7" fill="#c0c0c0"/>
<rect x="131" y="637" width="1" height="12" fill="#c0c0c0"/>
<rect x="135" y="626" width="1" height="23" fill="#c0c0c0"/>
<rect x="139" y="620" width="1" height="29" fill="#c0c0c0"/>
<rect x="143" y="613" width="1" height="36" fill="#c0c0c0"/>
<rect x="147" y="610" width="1" height="39" fill="#c0c0c0"/>
<rect x="151" y="608" width="1" height="41" fill="#c0c0c0"/>
<rect x="155" y="602" width="1" height="47" fill="#c0c0c0"/>
<rect x="159" y="601" width="1" height="48" fill="#c0c0c0"/>
<rect x="163" y="606" width="1" height="43" fill="#c0c0c0"/>
<rect x="167" y="608" width="1" height="41" fill="#c0c0c0"/>
<rect x="171" y="610" width="1" height="39" fill="#c0c0c0"/>
<rect x="175" y="612" width="1" height="37" fill="#c0c0c0"/>
<rect x="179" y="614" width="1" height="35" fill="#c0c0c0"/>
<rect x="183" y="615" width="1" height="34" fill="#c0c0c0"/>
<rect x="187" y="616" width="1" height="33" fill="#c0c0c0"/>
<rect x="191" y="617" width="1" height="32" fill="#c0c0c0"/>
<rect x="195" y="617" width="1" height="32" fill="#c0c0c0"/>
<rect x="199" y="613" width="1" height="36" fill="#c0c0c0"/>
<rect x="203" y="612" width="1" height="37" fill="#c0c0c0"/>
<rect x="207" y="609" width="1" height="40" fill="#c0c0c0"/>
<rect x="211" y="607" width="1" height="42" fill="#c0c0c0"/>
<rect x="215" y="606" width="1" height="43" fill="#c0c0c0"/>
<rect x="219" y="606" width="1" height="43" fill="#c0c0c0"/>
<rect x="223" y="607" width="1" height="42" fill="#c0c0c0"/>
<rect x="227" y="607" width="1" height="42" fill="#c0c0c0"/>
<rect x="231" y="606" width="1" height="43" fill="#c0c0c0"/>
<rect x="235" y="606" width="1" height="43" fill="#c0c0c0"/>
<rect x="239" y="610" width="1" height="39" fill="#c0c0c0"/>
<rect x="243" y="613" width="1" height="36" fill="#c0c0c0"/>
<rect x="247" y="618" width="1" height="31" fill="#c0c0c0"/>
<rect x="251" y="623" width="1" height="26" fill="#c0c0c0"/>
<rect x="255" y="626" width="1" height="23" fill="#c0c0c0"/>
<rect x="259" y="628" width="1" height="21" fill="#c0c0c0"/>
<rect x="263" y="632" width="1" height="17" fill="#c0c0c0"/>
<rect x="267" y="637" width="1" height="12" fill="#c0c0c0"/>
<rect x="271" y="644" width="1" height="5" fill="#c0c0c0"/>
<rect x="275" y="648" width="1" height="1" fill="#c0c0c0"/>
<rect x="279" y="648" width="1" height="1" fill="#c0c0c0"/>
<rect x="283" y="648" width="1" height="1" fill="#c0c0c0"/>
<rect x="287" y="648" width="1" height="1" fill="#c0c0c0"/>
<rect x="291" y="648" width="1" height="1" fill="#c0c0c0"/>
<rect x="295" y="648" width="1" height="1" fill="#c0c0c0"/>
<rect x="299" y="648" width="1" height="1" fill="#c0c0c0"/>
<rect x="303" y="647" width="1" height="2" fill="#c0c0c0"/>
<rect x="307" y="645" width="1" height="4" fill="#c0c0c0"/>
<rect x="311" y="644" width="1" height="5" fill="#c0c0c0"/>
<rect x="315" y="642" width="1" height="7" fill="#c0c0c0"/>
<rect x="319" y="641" width="1" height="8" fill="#c0c0c0"/>
<rect x="323" y="639" width="1" height="10" fill="#c0c0c0"/>
<rect x="327" y="638" width="1" height="11" fill="#c0c0c0"/>
<rect x="331" y="637" width="1" height="12" fill="#c0c0c0"/>
<rect x="335" y="637" width="1" height="12" fill="#c0c0c0"/>
<rect x="339" y="637" width="1" height="12" fill="#c0c0c0"/>
<rect x="343" y="639" width="1" height="10" fill="#c0c0c0"/>
<rect x="347" y="641" width="1" height="8" fill="#c0c0c0"/>
<rect x="351" y="641" width="1" height="8" fill="#c0c0c0"/>
<rect x="355" y="639" width="1" height="10" fill="#c0c0c0"/>
<rect x="359" y="639" width="1" height="10" fill="#c0c0c0"/>
<rect x="363" y="643" width="1" height="6" fill="#c0c0c0"/>
<rect x="367" y="646" width="1" height="3" fill="#c0c0c0"/>
<rect x="371" y="648" width="1" height="3" fill="#c0c0c0"/>
<rect x="375" y="648" width="1" height="4" fill="#c0c0c0"/>
<rect x="379" y="648" width="1" height="4" fill="#c0c0c0"/>
<rect x="383" y="648" width="1" height="4" fill="#c0c0c0"/>
<rect x="387" y="648" width="1" height="5" fill="#c0c0c0"/>
<rect x="391" y="648" width="1" height="6" fill="#c0c0c0"/>
<rect x="395" y="648" width="1" height="7" fill="#c0c0c0"/>
<rect x="399" y="648" width="1" height="8" fill="#c0c0c0"/>
<rect x="403" y="648" width="1" height="8" fill="#c0c0c0"/>
<rect x="407" y="648" width="1" height="9" fill="#c0c0c0"/>
<rect x="411" y="648" width="1" height="10" fill="#c0c0c0"/>
<rect x="415" y="648" width="1" height="11" fill="#c0c0c0"/>
<rect x="419" y="648" width="1" height="11" fill="#c0c0c0"/>
<rect x="423" y="648" width="1" height="11" fill="#c0c0c0"/>
<rect x="427" y="648" width="1" height="11" fill="#c0c0c0"/>
<rect x="431" y="648" width="1" height="11" fill="#c0c0c0"/>
<rect x="435" y="648" width="1" height="12" fill="#c0c0c0"/>
<rect x="439" y="648" width="1" height="12" fill="#c0c0c0"/>
<rect x="443" y="648" width="1" height="13" fill="#c0c0c0"/>
<rect x="447" y="648" width="1" height="14" fill="#c0c0c0"/>
<rect x="451" y="648" width="1" height="16" fill="#c0c0c0"/>
<rect x="455" y="648" width="1" height="18" fill="#c0c0c0"/>
<rect x="459" y="648" width="1" height="20" fill="#c0c0c0"/>
<rect x="463" y="648" width="1" height="22" fill="#c0c0c0"/>
<rect x="467" y="648" width="1" height="22" fill="#c0c0c0"/>
<rect x="471" y="648" width="1" height="20" fill="#c0c0c0"/>
<rect x="475" y="648" width="1" height="19" fill="#c0c0c0"/>
<rect x="479" y="648" width="1" height="18" fill="#c0c0c0"/>
<rect x="483" y="648" width="1" height="16" fill="#c0c0c0"/>
<rect x="487" y="648" width="1" height="15" fill="#c0c0c0"/>
<rect x="491" y="648" width="1" height="15" fill="#c0c0c0"/>
<rect x="495" y="648" width="1" height="14" fill="#c0c0c0"/>
<rect x="499" y="648" width="1" height="12" fill="#c0c0c0"/>
<rect x="503" y="648" width="1" height="10" fill="#c0c0c0"/>
<rect x="507" y="648" width="1" height="8" fill="#c0c0c0"/>
<rect x="511" y="648" width="1" height="6" fill="#c0c0c0"/>
<rect x="515" y="648" width="1" height="4" fill="#c0c0c0"/>
<rect x="519" y="648" width="1" height="4" fill="#c0c0c0"/>
<rect x="523" y="648" width="1" height="4" fill="#c0c0c0"/>
<rect x="527" y="648" width="1" height="4" fill="#c0c0c0"/>
<rect x="531" y="648" width="1" height="4" fill="#c0c0c0"/>
<rect x="535" y="648" width="1" height="3" fill="#c0c0c0"/>
<rect x="539" y="648" width="1" height="3" fill="#c0c0c0"/>
<rect x="543" y="648" width="1" height="2" fill="#c0c0c0"/>
<rect x="547" y="647" width="1" height="2" fill="#c0c0c0"/>
<rect x="551" y="647" width="1" height="2" fill="#c0c0c0"/>
<rect x="555" y="647" width="1" height="2" fill="#c0c0c0"/>
<rect x="559" y="647" width="1" height="2" fill="#c0c0c0"/>
<rect x="563" y="648" width="1" height="1" fill="#c0c0c0"/>
<rect x="567" y="648" width="1" height="1" fill="#c0c0c0"/>
<rect x="571" y="648" width="1" height="1" fill="#c0c0c0"/>
<rect x="575" y="648" width="1" height="1" fill="#c0c0c0"/>
<rect x="579" y="648" width="1" height="4" fill="#c0c0c0"/>
<rect x="583" y="648" width="1" height="5" fill="#c0c0c0"/>
<rect x="587" y="648" width="1" height="6" fill="#c0c0c0"/>
<rect x="591" y="648" width="1" height="7" fill="#c0c0c0"/>
<rect x="595" y="648" width="1" height="8" fill="#c0c0c0"/>
<rect x="599" y="648" width="1" height="8" fill="#c0c0c0"/>
<rect x="603" y="648" width="1" height="7" fill="#c0c0c0"/>
<rect x="607" y="648" width="1" height="7" fill="#c0c0c0"/>
<rect x="611" y="648" width="1" height="7" fill="#c0c0c0"/>
<rect x="615" y="648" width="1" height="6" fill="#c0c0c0"/>
<rect x="619" y="648" width="1" height="6" fill="#c0c0c0"/>
<rect x="623" y="648" width="1" height="7" fill="#c0c0c0"/>
<rect x="627" y="648" width="1" height="7" fill="#c0c0c0"/>
<rect x="631" y="648" width="1" height="7" fill="#c0c0c0"/>
<rect x="635" y="648" width="1" height="8" fill="#c0c0c0"/>
<rect x="639" y="648" width="1" height="9" fill="#c0c0c0"/>
<rect x="643" y="648" width="1" height="10" fill="#c0c0c0"/>
<rect x="647" y="648" width="1" height="12" fill="#c0c0c0"/>
<rect x="651" y="648" width="1" height="13" fill="#c0c0c0"/>
<rect x="655" y="648" width="1" height="13" fill="#c0c0c0"/>
<rect x="659" y="648" width="1" height="12" fill="#c0c0c0"/>
<rect x="663" y="648" width="1" height="13" fill="#c0c0c0"/>
<rect x="667" y="648" width="1" height="14" fill="#c0c0c0"/>
<rect x="671" y="648" width="1" height="15" fill="#c0c0c0"/>
<rect x="675" y="648" width="1" height="16" fill="#c0c0c0"/>
<rect x="679" y="648" width="1" height="18" fill="#c0c0c0"/>
<rect x="683" y="648" width="1" height="20" fill="#c0c0c0"/>
<rect x="687" y="648" width="1" height="22" fill="#c0c0c0"/>
<rect x="691" y="648" width="1" height="24" fill="#c0c0c0"/>
<rect x="695" y="648" width="1" height="25" fill="#c0c0c0"/>
<rect x="699" y="648" width="1" height="25" fill="#c0c0c0"/>
<rect x="703" y="648" width="1" height="27" fill="#c0c0c0"/>
<rect x="707" y="648" width="1" height="29" fill="#c0c0c0"/>
<rect x="711" y="648" width="1" height="29" fill="#c0c0c0"/>
<rect x="715" y="648" width="1" height="27" fill="#c0c0c0"/>
<rect x="719" y="648" width="1" height="24" fill="#c0c0c0"/>
<rect x="723" y="648" width="1" height="19" fill="#c0c0c0"/>
<rect x="727" y="648" width="1" height="16" fill="#c0c0c0"/>
<rect x="731" y="648" width="1" height="13" fill="#c0c0c0"/>
<rect x="735" y="648" width="1" height="7" fill="#c0c0c0"/>
<rect x="739" y="648" width="1" height="3" fill="#c0c0c0"/>
<rect x="743" y="648" width="1" height="1" fill="#c0c0c0"/>
<rect x="747" y="645" width="1" height="4" fill="#c0c0c0"/>
<rect x="751" y="642" width="1" height="7" fill="#c0c0c0"/>
<rect x="755" y="640" width="1" height="9" fill="#c0c0c0"/>
<rect x="759" y="637" width="1" height="12" fill="#c0c0c0"/>
<rect x="763" y="636" width="1" height="13" fill="#c0c0c0"/>
<rect x="767" y="637" width="1" height="12" fill="#c0c0c0"/>
<rect x="771" y="638" width="1" height="11" fill="#c0c0c0"/>
<rect x="775" y="638" width="1" height="11" fill="#c0c0c0"/>
<rect x="779" y="636" width="1" height="13" fill="#c0c0c0"/>
<rect x="783" y="637" width="1" height="12" fill="#c0c0c0"/>
<rect x="787" y="639" width="1" height="10" fill="#c0c0c0"/>
<rect x="791" y="640" width="1" height="9" fill="#c0c0c0"/>
<rect x="795" y="640" width="1" height="9" fill="#c0c0c0"/>
<rect x="799" y="640" width="1" height="9" fill="#c0c0c0"/>
<rect x="803" y="640" width="1" height="9" fill="#c0c0c0"/>
<rect x="807" y="640" width="1" height="9" fill="#c0c0c0"/>
<rect x="811" y="640" width="1" height="9" fill="#c0c0c0"/>
<rect x="815" y="639" width="1" height="10" fill="#c0c0c0"/>
<rect x="819" y="636" width="1" height="13" fill="#c0c0c0"/>
<rect x="823" y="635" width="1" height="14" fill="#c0c0c0"/>
<rect x="827" y="634" width="1" height="15" fill="#c0c0c0"/>
<rect x="831" y="633" width="1" height="16" fill="#c0c0c0"/>
<rect x="835" y="634" width="1" height="15" fill="#c0c0c0"/>
<rect x="839" y="634" width="1" height="15" fill="#c0c0c0"/>
<rect x="843" y="635" width="1" height="14" fill="#c0c0c0"/>
<rect x="847" y="638" width="1" height="11" fill="#c0c0c0"/>
<rect x="851" y="641" width="1" height="8" fill="#c0c0c0"/>
<rect x="855" y="645" width="1" height="4" fill="#c0c0c0"/>
<rect x="859" y="648" width="1" height="1" fill="#c0c0c0"/>
<rect x="863" y="648" width="1" height="5" fill="#c0c0c0"/>
<rect x="867" y="648" width="1" height="7" fill="#c0c0c0"/>
<rect x="871" y="648" width="1" height="9" fill="#c0c0c0"/>
<rect x="875" y="648" width="1" height="11" fill="#c0c0c0"/>
<rect x="879" y="648" width="1" height="11" fill="#c0c0c0"/>
<rect x="883" y="648" width="1" height="10" fill="#c0c0c0"/>
<rect x="887" y="648" width="1" height="8" fill="#c0c0c0"/>
<rect x="891" y="648" width="1" height="3" fill="#c0c0c0"/>
<rect x="895" y="648" width="1" height="1" fill="#c0c0c0"/>
<rect x="899" y="645" width="1" height="4" fill="#c0c0c0"/>
<rect x="903" y="644" width="1" height="5" fill="#c0c0c0"/>
<rect x="907" y="642" width="1" height="7" fill="#c0c0c0"/>
<rect x="911" y="637" width="1" height="12" fill="#c0c0c0"/>
<rect x="915" y="629" width="1" height="20" fill="#c0c0c0"/>
<rect x="919" y="623" width="1" height="26" fill="#c0c0c0"/>
<rect x="923" y="619" width="1" height="30" fill="#c0c0c0"/>
<rect x="927" y="617" width="1" height="32" fill="#c0c0c0"/>
<rect x="931" y="619" width="1" height="30" fill="#c0c0c0"/>
<rect x="935" y="617" width="1" height="32" fill="#c0c0c0"/>
<rect x="939" y="619" width="1" height="30" fill="#c0c0c0"/>
<rect x="943" y="619" width="1" height="30" fill="#c0c0c0"/>
<rect x="947" y="620" width="1" height="29" fill="#c0c0c0"/>
<rect x="951" y="621" width="1" height="28" fill="#c0c0c0"/>
<rect x="955" y="624" width="1" height="25" fill="#c0c0c0"/>
<rect x="959" y="624" width="1" height="25" fill="#c0c0c0"/>
<rect x="963" y="626" width="1" height="23" fill="#c0c0c0"/>
<rect x="967" y="626" width="1" height="23" fill="#c0c0c0"/>
<rect x="971" y="627" width="1" height="22" fill="#c0c0c0"/>
<rect x="975" y="628" width="1" height="21" fill="#c0c0c0"/>
<rect x="979" y="633" width="1" height="16" fill="#c0c0c0"/>
<rect x="983" y="635" width="1" height="14" fill="#c0c0c0"/>
<rect x="987" y="639" width="1" height="10" fill="#c0c0c0"/>
<rect x="991" y="642" width="1" height="7" fill="#c0c0c0"/>
<rect x="995" y="645" width="1" height="4" fill="#c0c0c0"/>
<rect x="999" y="646" width="1" height="3" fill="#c0c0c0"/>
<rect x="1003" y="648" width="1" height="1" fill="#c0c0c0"/>
<rect x="1007" y="648" width="1" height="1" fill="#c0c0c0"/>
<rect x="1011" y="647" width="1" height="2" fill="#c0c0c0"/>
<rect x="1015" y="646" width="1" height="3" fill="#c0c0c0"/>
<rect x="1019" y="645" width="1" height="4" fill="#c0c0c0"/>
<rect x="1023" y="645" width="1" height="4" fill="#c0c0c0"/>
<rect x="1027" y="644" width="1" height="5" fill="#c0c0c0"/>
<rect x="1031" y="643" width="1" height="6" fill="#c0c0c0"/>
<rect x="1035" y="643" width="1" height="6" fill="#c0c0c0"/>
<rect x="1039" y="643" width="1" height="6" fill="#c0c0c0"/>
<rect x="1043" y="642" width="1" height="7" fill="#c0c0c0"/>
<rect x="1047" y="642" width="1" height="7" fill="#c0c0c0"/>
<rect x="1051" y="643" width="1" height="6" fill="#c0c0c0"/>
<rect x="1055" y="644" width="1" height="5" fill="#c0c0c0"/>
<rect x="1059" y="645" width="1" height="4" fill="#c0c0c0"/>
<rect x="1063" y="642" width="1" height="7" fill="#c0c0c0"/>
<rect x="1067" y="639" width="1" height="10" fill="#c0c0c0"/>
<rect x="1071" y="638" width="1" height="11" fill="#c0c0c0"/>
<rect x="1075" y="638" width="1" height="11" fill="#c0c0c0"/>
<rect x="1079" y="637" width="1" height="12" fill="#c0c0c0"/>
<rect x="1083" y="639" width="1" height="10" fill="#c0c0c0"/>
<rect x="1087" y="641" width="1" height="8" fill="#c0c0c0"/>
<rect x="1091" y="642" width="1" height="7" fill="#c0c0c0"/>
<rect x="1095" y="642" width="1" height="7" fill="#c0c0c0"/>
<rect x="1099" y="643" width="1" height="6" fill="#c0c0c0"/>
<rect x="1103" y="643" width="1" height="6" fill="#c0c0c0"/>
<rect x="1107" y="642" width="1" height="7" fill="#c0c0c0"/>
<rect x="1111" y="640" width="1" height="9" fill="#c0c0c0"/>
<rect x="1115" y="640" width="1" height="9" fill="#c0c0c0"/>
<rect x="1119" y="641" width="1" height="8" fill="#c0c0c0"/>
<rect x="1123" y="642" width="1" height="7" fill="#c0c0c0"/>
<rect x="1127" y="643" width="1" height="6" fill="#c0c0c0"/>
<rect x="1131" y="642" width="1" height="7" fill="#c0c0c0"/>
<rect x="1135" y="640" width="1" height="9" fill="#c0c0c0"/>
<rect x="1139" y="639" width="1" height="10" fill="#c0c0c0"/>
<rect x="1143" y="638" width="1" height="11" fill="#c0c0c0"/>
<rect x="1147" y="638" width="1" height="11" fill="#c0c0c0"/>
<rect x="1151" y="635" width="1" height="14" fill="#c0c0c0"/>
<rect x="1155" y="635" width="1" height="14" fill="#c0c0c0"/>
<rect x="1159" y="634" width="1" height="15" fill="#c0c0c0"/>
<rect x="1163" y="634" width="1" height="15" fill="#c0c0c0"/>
<rect x="1167" y="636" width="1" height="13" fill="#c0c0c0"/>
<rect x="1171" y="640" width="1" height="9" fill="#c0c0c0"/>
<rect x="1175" y="642" width="1" height="7" fill="#c0c0c0"/>
<rect x="1179" y="643" width="1" height="6" fill="#c0c0c0"/>
</g>
<g shape-rendering="crispEdges">
<path d="M134 518h2v1h-2zM129 525h2v1h-2zM142 525h2v1h-2zM127 526h2v1h-2zM139 526h3v1h-3zM151 527h3v1h-3zM154 528h6v1h-6zM148 529h2v1h-2zM208 529h2v1h-2zM206 530h2v1h-2zM210 530h6v1h-6zM204 531h2v1h-2zM230 531h3v1h-3zM916 531h2v1h-2zM202 532h2v1h-2zM226 532h4v1h-4zM233 532h2v1h-2zM199 533h3v1h-3zM224 533h2v1h-2zM919 533h7v1h-7zM222 534h2v1h-2zM926 534h2v1h-2zM1150 534h2v1h-2zM220 535h2v1h-2zM820 536h3v1h-3zM194 537h2v1h-2zM747 537h7v1h-7zM756 537h2v1h-2zM823 537h4v1h-4zM186 538h3v1h-3zM735 538h3v1h-3zM754 538h2v1h-2zM827 538h2v1h-2zM934 538h2v1h-2zM184 539h2v1h-2zM189 539h2v1h-2zM546 539h2v1h-2zM829 539h2v1h-2zM891 539h3v1h-3zM1063 539h6v1h-6zM182 540h2v1h-2zM238 540h2v1h-2zM322 540h4v1h-4zM329 540h7v1h-7zM739 540h2v1h-2zM778 540h2v1h-2zM1069 540h2v1h-2zM168 541h10v1h-10zM180 541h2v1h-2zM240 541h2v1h-2zM319 541h3v1h-3zM326 541h3v1h-3zM741 541h2v1h-2zM775 541h3v1h-3zM832 541h2v1h-2zM838 541h2v1h-2zM895 541h5v1h-5zM1135 541h13v1h-13zM166 542h2v1h-2zM178 542h2v1h-2zM314 542h5v1h-5zM834 542h4v1h-4zM931 542h2v1h-2zM1112 542h2v1h-2zM1158 542h4v1h-4zM163 543h3v1h-3zM310 543h4v1h-4zM813 543h2v1h-2zM942 543h3v1h-3zM949 543h2v1h-2zM1073 543h2v1h-2zM1077 543h3v1h-3zM1110 543h2v1h-2zM1114 543h2v1h-2zM1155 543h3v1h-3zM799 544h6v1h-6zM811 544h2v1h-2zM940 544h2v1h-2zM945 544h4v1h-4zM967 544h3v1h-3zM1027 544h5v1h-5zM1075 544h2v1h-2zM1108 544h2v1h-2zM111 545h3v1h-3zM307 545h2v1h-2zM959 545h2v1h-2zM965 545h2v1h-2zM970 545h4v1h-4zM1117 545h2v1h-2zM114 546h6v1h-6zM299 546h8v1h-8zM512 546h2v1h-2zM770 546h2v1h-2zM796 546h2v1h-2zM808 546h2v1h-2zM963 546h2v1h-2zM974 546h2v1h-2zM1039 546h9v1h-9zM1105 546h2v1h-2zM31 547h6v1h-6zM256 547h2v1h-2zM340 547h2v1h-2zM514 547h2v1h-2zM551 547h2v1h-2zM767 547h3v1h-3zM1010 547h3v1h-3zM1037 547h2v1h-2zM1048 547h2v1h-2zM1094 547h3v1h-3zM1103 547h2v1h-2zM1120 547h2v1h-2zM37 548h2v1h-2zM41 548h2v1h-2zM247 548h2v1h-2zM254 548h2v1h-2zM258 548h5v1h-5zM292 548h2v1h-2zM509 548h2v1h-2zM553 548h2v1h-2zM723 548h3v1h-3zM793 548h2v1h-2zM1013 548h11v1h-11zM1035 548h2v1h-2zM1091 548h3v1h-3zM1097 548h2v1h-2zM1101 548h2v1h-2zM1122 548h2v1h-2zM39 549h2v1h-2zM249 549h2v1h-2zM252 549h2v1h-2zM503 549h3v1h-3zM531 549h2v1h-2zM555 549h2v1h-2zM726 549h6v1h-6zM790 549h3v1h-3zM1051 549h2v1h-2zM1099 549h2v1h-2zM1124 549h2v1h-2zM77 550h7v1h-7zM88 550h2v1h-2zM103 550h5v1h-5zM344 550h2v1h-2zM501 550h2v1h-2zM506 550h2v1h-2zM533 550h2v1h-2zM538 550h2v1h-2zM557 550h2v1h-2zM568 550h2v1h-2zM787 550h3v1h-3zM1006 550h2v1h-2zM1053 550h3v1h-3zM1083 550h2v1h-2zM1126 550h2v1h-2zM22 551h2v1h-2zM75 551h2v1h-2zM84 551h4v1h-4zM284 551h2v1h-2zM498 551h3v1h-3zM535 551h3v1h-3zM574 551h2v1h-2zM980 551h2v1h-2zM983 551h2v1h-2zM1056 551h2v1h-2zM1085 551h2v1h-2zM20 552h2v1h-2zM55 552h6v1h-6zM67 552h2v1h-2zM282 552h2v1h-2zM286 552h2v1h-2zM495 552h3v1h-3zM520 552h2v1h-2zM571 552h3v1h-3zM615 552h4v1h-4zM847 552h3v1h-3zM883 552h3v1h-3zM985 552h2v1h-2zM998 552h3v1h-3zM1058 552h2v1h-2zM1177 552h2v1h-2zM61 553h2v1h-2zM65 553h2v1h-2zM69 553h2v1h-2zM72 553h2v1h-2zM280 553h2v1h-2zM522 553h2v1h-2zM561 553h2v1h-2zM613 553h2v1h-2zM619 553h4v1h-4zM850 553h2v1h-2zM886 553h2v1h-2zM987 553h11v1h-11zM1001 553h3v1h-3zM1174 553h3v1h-3zM26 554h2v1h-2zM52 554h2v1h-2zM63 554h2v1h-2zM384 554h2v1h-2zM479 554h5v1h-5zM524 554h2v1h-2zM583 554h2v1h-2zM611 554h2v1h-2zM1171 554h3v1h-3zM47 555h5v1h-5zM94 555h3v1h-3zM585 555h2v1h-2zM599 555h12v1h-12zM624 555h2v1h-2zM2 556h2v1h-2zM97 556h2v1h-2zM387 556h7v1h-7zM587 556h2v1h-2zM631 556h3v1h-3zM718 556h2v1h-2zM4 557h3v1h-3zM367 557h3v1h-3zM394 557h3v1h-3zM401 557h4v1h-4zM423 557h5v1h-5zM589 557h2v1h-2zM596 557h2v1h-2zM629 557h2v1h-2zM634 557h2v1h-2zM715 557h3v1h-3zM7 558h4v1h-4zM370 558h4v1h-4zM397 558h4v1h-4zM405 558h2v1h-2zM408 558h2v1h-2zM411 558h2v1h-2zM428 558h2v1h-2zM591 558h5v1h-5zM11 559h2v1h-2zM275 559h2v1h-2zM374 559h2v1h-2zM413 559h2v1h-2zM420 559h2v1h-2zM430 559h2v1h-2zM471 559h5v1h-5zM490 559h2v1h-2zM637 559h2v1h-2zM13 560h2v1h-2zM273 560h2v1h-2zM415 560h2v1h-2zM487 560h3v1h-3zM867 560h7v1h-7zM271 561h2v1h-2zM417 561h2v1h-2zM433 561h2v1h-2zM874 561h2v1h-2zM435 562h2v1h-2zM441 562h3v1h-3zM641 562h2v1h-2zM437 563h4v1h-4zM444 563h2v1h-2zM643 563h2v1h-2zM654 563h6v1h-6zM645 564h3v1h-3zM652 564h2v1h-2zM648 565h4v1h-4zM448 566h2v1h-2zM463 566h5v1h-5zM667 566h5v1h-5zM451 568h2v1h-2zM453 569h2v1h-2zM675 570h2v1h-2zM456 571h2v1h-2zM677 571h2v1h-2zM679 572h5v1h-5zM695 572h2v1h-2zM697 573h2v1h-2zM685 574h2v1h-2zM699 574h2v1h-2zM701 575h2v1h-2zM709 575h2v1h-2zM688 576h4v1h-4zM703 576h6v1h-6zM135 517h1v1h-1zM134 519h1v1h-1zM136 519h1v2h-1zM133 520h1v2h-1zM137 521h1v2h-1zM132 522h1v2h-1zM138 523h1v2h-1zM131 524h1v1h-1zM139 525h1v1h-1zM144 526h1v1h-1zM127 527h1v1h-1zM145 527h1v2h-1zM126 528h1v4h-1zM150 528h1v1h-1zM146 529h1v1h-1zM159 529h1v2h-1zM147 530h1v1h-1zM915 530h1v1h-1zM160 531h1v4h-1zM216 531h1v1h-1zM914 531h1v2h-1zM125 532h1v3h-1zM217 532h1v1h-1zM918 532h1v1h-1zM218 533h1v1h-1zM234 533h1v1h-1zM913 533h1v1h-1zM1151 533h1v1h-1zM198 534h1v1h-1zM219 534h1v1h-1zM235 534h1v2h-1zM912 534h1v2h-1zM124 535h1v4h-1zM161 535h1v4h-1zM197 535h1v1h-1zM759 535h1v1h-1zM928 535h1v2h-1zM1150 535h1v1h-1zM1152 535h1v2h-1zM196 536h1v1h-1zM236 536h1v2h-1zM758 536h1v1h-1zM760 536h1v2h-1zM911 536h1v2h-1zM1149 536h1v2h-1zM735 537h1v1h-1zM819 537h1v1h-1zM929 537h1v3h-1zM935 537h1v1h-1zM1153 537h1v3h-1zM193 538h1v1h-1zM237 538h1v2h-1zM547 538h1v1h-1zM746 538h1v1h-1zM761 538h1v2h-1zM818 538h1v1h-1zM891 538h1v1h-1zM910 538h1v1h-1zM1148 538h1v2h-1zM123 539h1v2h-1zM162 539h1v4h-1zM192 539h1v1h-1zM734 539h1v3h-1zM738 539h1v1h-1zM745 539h1v2h-1zM817 539h1v2h-1zM909 539h1v2h-1zM934 539h1v1h-1zM936 539h1v2h-1zM191 540h1v1h-1zM546 540h1v1h-1zM548 540h1v2h-1zM762 540h1v2h-1zM831 540h1v1h-1zM890 540h1v4h-1zM894 540h1v1h-1zM930 540h1v2h-1zM933 540h1v1h-1zM1063 540h1v1h-1zM1147 540h1v1h-1zM1154 540h1v2h-1zM122 541h1v2h-1zM336 541h1v2h-1zM355 541h1v1h-1zM545 541h1v2h-1zM744 541h1v1h-1zM780 541h1v1h-1zM816 541h1v1h-1zM908 541h1v1h-1zM932 541h1v1h-1zM937 541h1v2h-1zM1062 541h1v3h-1zM1071 541h1v1h-1zM242 542h1v1h-1zM354 542h1v1h-1zM356 542h1v1h-1zM549 542h1v2h-1zM733 542h1v3h-1zM743 542h1v1h-1zM763 542h1v1h-1zM774 542h1v1h-1zM781 542h1v2h-1zM815 542h1v1h-1zM840 542h1v2h-1zM900 542h1v2h-1zM907 542h1v1h-1zM951 542h1v1h-1zM1072 542h1v1h-1zM1079 542h1v1h-1zM1134 542h1v1h-1zM1155 542h1v1h-1zM121 543h1v1h-1zM243 543h1v1h-1zM337 543h1v1h-1zM353 543h1v2h-1zM357 543h1v1h-1zM544 543h1v2h-1zM764 543h1v1h-1zM773 543h1v2h-1zM906 543h1v2h-1zM931 543h1v1h-1zM938 543h1v2h-1zM952 543h1v1h-1zM1133 543h1v1h-1zM1162 543h1v1h-1zM120 544h1v2h-1zM163 544h1v1h-1zM244 544h1v2h-1zM309 544h1v1h-1zM338 544h1v2h-1zM358 544h1v2h-1zM550 544h1v2h-1zM765 544h1v2h-1zM782 544h1v1h-1zM841 544h1v2h-1zM889 544h1v4h-1zM901 544h1v2h-1zM953 544h1v2h-1zM958 544h1v1h-1zM1061 544h1v4h-1zM1080 544h1v2h-1zM1116 544h1v1h-1zM1132 544h1v1h-1zM1163 544h1v1h-1zM352 545h1v1h-1zM543 545h1v2h-1zM732 545h1v3h-1zM772 545h1v1h-1zM783 545h1v1h-1zM798 545h1v1h-1zM805 545h1v1h-1zM810 545h1v1h-1zM905 545h1v1h-1zM939 545h1v1h-1zM957 545h1v1h-1zM1026 545h1v1h-1zM1032 545h1v1h-1zM1107 545h1v1h-1zM1131 545h1v2h-1zM1164 545h1v2h-1zM110 546h1v1h-1zM245 546h1v1h-1zM339 546h1v1h-1zM351 546h1v1h-1zM359 546h1v2h-1zM551 546h1v1h-1zM766 546h1v1h-1zM784 546h1v1h-1zM806 546h1v1h-1zM842 546h1v2h-1zM902 546h1v2h-1zM904 546h1v2h-1zM954 546h1v1h-1zM956 546h1v1h-1zM961 546h1v1h-1zM1025 546h1v1h-1zM1033 546h1v1h-1zM1081 546h1v2h-1zM1119 546h1v1h-1zM109 547h1v2h-1zM246 547h1v1h-1zM291 547h1v1h-1zM298 547h1v1h-1zM350 547h1v2h-1zM511 547h1v1h-1zM542 547h1v1h-1zM785 547h1v2h-1zM795 547h1v1h-1zM807 547h1v1h-1zM955 547h1v1h-1zM962 547h1v1h-1zM976 547h1v2h-1zM1024 547h1v1h-1zM1034 547h1v1h-1zM1130 547h1v1h-1zM1165 547h1v1h-1zM30 548h1v2h-1zM290 548h1v1h-1zM297 548h1v1h-1zM342 548h1v1h-1zM360 548h1v2h-1zM516 548h1v1h-1zM541 548h1v1h-1zM731 548h1v1h-1zM843 548h1v1h-1zM888 548h1v4h-1zM903 548h1v1h-1zM1009 548h1v1h-1zM1050 548h1v1h-1zM1060 548h1v3h-1zM1082 548h1v2h-1zM1129 548h1v1h-1zM1166 548h1v1h-1zM43 549h1v2h-1zM90 549h1v1h-1zM108 549h1v1h-1zM263 549h1v2h-1zM289 549h1v2h-1zM294 549h1v1h-1zM296 549h1v1h-1zM343 549h1v1h-1zM349 549h1v1h-1zM508 549h1v1h-1zM517 549h1v1h-1zM540 549h1v1h-1zM567 549h1v1h-1zM722 549h1v2h-1zM786 549h1v1h-1zM844 549h1v1h-1zM977 549h1v1h-1zM1008 549h1v1h-1zM1090 549h1v1h-1zM1128 549h1v1h-1zM1167 549h1v1h-1zM29 550h1v2h-1zM91 550h1v2h-1zM251 550h1v1h-1zM295 550h1v1h-1zM348 550h1v2h-1zM361 550h1v2h-1zM518 550h1v1h-1zM530 550h1v1h-1zM566 550h1v1h-1zM845 550h1v1h-1zM978 550h1v2h-1zM982 550h1v1h-1zM1089 550h1v1h-1zM1168 550h1v1h-1zM44 551h1v1h-1zM102 551h1v1h-1zM264 551h1v1h-1zM288 551h1v1h-1zM346 551h1v1h-1zM519 551h1v1h-1zM529 551h1v1h-1zM559 551h1v1h-1zM565 551h1v2h-1zM570 551h1v1h-1zM721 551h1v2h-1zM846 551h1v1h-1zM1005 551h1v1h-1zM1059 551h1v1h-1zM1088 551h1v1h-1zM1169 551h1v2h-1zM1179 551h1v1h-1zM24 552h1v1h-1zM28 552h1v2h-1zM45 552h1v1h-1zM74 552h1v1h-1zM92 552h1v1h-1zM101 552h1v1h-1zM265 552h1v1h-1zM347 552h1v1h-1zM362 552h1v1h-1zM382 552h1v1h-1zM528 552h1v2h-1zM560 552h1v1h-1zM575 552h1v1h-1zM887 552h1v1h-1zM979 552h1v1h-1zM1004 552h1v1h-1zM1087 552h1v1h-1zM19 553h1v2h-1zM25 553h1v1h-1zM46 553h1v2h-1zM54 553h1v1h-1zM93 553h1v2h-1zM100 553h1v2h-1zM266 553h1v2h-1zM363 553h1v1h-1zM381 553h1v1h-1zM383 553h1v1h-1zM494 553h1v2h-1zM564 553h1v1h-1zM576 553h1v3h-1zM720 553h1v2h-1zM882 553h1v1h-1zM1170 553h1v1h-1zM71 554h1v1h-1zM279 554h1v2h-1zM364 554h1v1h-1zM380 554h1v1h-1zM527 554h1v1h-1zM563 554h1v1h-1zM623 554h1v1h-1zM852 554h1v1h-1zM881 554h1v1h-1zM18 555h1v2h-1zM27 555h1v1h-1zM99 555h1v1h-1zM267 555h1v1h-1zM365 555h1v1h-1zM379 555h1v1h-1zM386 555h1v1h-1zM478 555h1v1h-1zM484 555h1v2h-1zM493 555h1v2h-1zM526 555h1v1h-1zM583 555h1v1h-1zM719 555h1v1h-1zM853 555h1v1h-1zM880 555h1v1h-1zM268 556h1v2h-1zM278 556h1v1h-1zM366 556h1v1h-1zM378 556h1v1h-1zM477 556h1v2h-1zM577 556h1v3h-1zM582 556h1v2h-1zM598 556h1v1h-1zM626 556h1v1h-1zM854 556h1v1h-1zM879 556h1v1h-1zM17 557h1v2h-1zM277 557h1v2h-1zM377 557h1v1h-1zM410 557h1v1h-1zM485 557h1v1h-1zM492 557h1v2h-1zM627 557h1v1h-1zM855 557h1v1h-1zM878 557h1v1h-1zM269 558h1v1h-1zM376 558h1v1h-1zM422 558h1v1h-1zM476 558h1v1h-1zM486 558h1v2h-1zM581 558h1v2h-1zM628 558h1v1h-1zM636 558h1v1h-1zM715 558h1v2h-1zM856 558h1v1h-1zM877 558h1v2h-1zM16 559h1v2h-1zM270 559h1v2h-1zM407 559h1v1h-1zM578 559h1v3h-1zM663 559h1v1h-1zM857 559h1v1h-1zM419 560h1v1h-1zM432 560h1v1h-1zM470 560h1v2h-1zM580 560h1v2h-1zM639 560h1v1h-1zM662 560h1v1h-1zM664 560h1v2h-1zM714 560h1v4h-1zM858 560h1v1h-1zM876 560h1v1h-1zM15 561h1v1h-1zM640 561h1v1h-1zM661 561h1v1h-1zM859 561h1v1h-1zM866 561h1v1h-1zM469 562h1v2h-1zM579 562h1v2h-1zM660 562h1v1h-1zM665 562h1v2h-1zM860 562h1v1h-1zM865 562h1v2h-1zM861 563h1v1h-1zM446 564h1v1h-1zM468 564h1v2h-1zM666 564h1v2h-1zM713 564h1v4h-1zM862 564h1v1h-1zM864 564h1v1h-1zM447 565h1v1h-1zM863 565h1v1h-1zM450 567h1v1h-1zM462 567h1v2h-1zM672 567h1v1h-1zM673 568h1v1h-1zM712 568h1v4h-1zM461 569h1v2h-1zM674 569h1v1h-1zM455 570h1v1h-1zM460 571h1v2h-1zM458 572h1v1h-1zM711 572h1v3h-1zM459 573h1v1h-1zM684 573h1v1h-1zM694 573h1v1h-1zM693 574h1v1h-1zM687 575h1v1h-1zM692 575h1v1h-1z" fill="#1e90ff"/>
<path d="M235 606h3v1h-3zM175 607h3v1h-3zM180 607h3v1h-3zM185 607h3v1h-3zM230 607h3v1h-3zM240 607h3v1h-3zM170 608h3v1h-3zM225 608h3v1h-3zM245 608h3v1h-3zM191 609h2v1h-2zM221 609h2v1h-2zM250 610h2v1h-2zM195 611h2v1h-2zM215 611h2v1h-2zM200 612h3v1h-3zM205 612h3v1h-3zM210 612h3v1h-3zM256 613h2v1h-2zM261 617h2v1h-2zM950 618h3v1h-3zM955 618h3v1h-3zM960 619h3v1h-3zM946 620h2v1h-2zM965 620h2v1h-2zM971 622h2v1h-2zM975 623h2v1h-2zM980 625h3v1h-3zM985 627h2v1h-2zM276 630h2v1h-2zM990 630h2v1h-2zM995 633h2v1h-2zM845 634h3v1h-3zM840 635h3v1h-3zM851 635h2v1h-2zM785 636h3v1h-3zM790 636h3v1h-3zM795 636h3v1h-3zM835 636h3v1h-3zM856 636h2v1h-2zM1000 636h2v1h-2zM1155 636h3v1h-3zM1160 636h3v1h-3zM1165 636h3v1h-3zM1170 636h3v1h-3zM1175 636h3v1h-3zM781 637h2v1h-2zM800 637h3v1h-3zM805 637h2v1h-2zM826 637h2v1h-2zM830 637h2v1h-2zM340 638h3v1h-3zM345 638h3v1h-3zM350 638h3v1h-3zM355 638h3v1h-3zM360 638h3v1h-3zM810 638h3v1h-3zM815 638h3v1h-3zM820 638h3v1h-3zM861 638h2v1h-2zM1150 638h3v1h-3zM138 639h2v1h-2zM336 639h2v1h-2zM365 639h3v1h-3zM775 639h2v1h-2zM1006 639h2v1h-2zM1086 639h2v1h-2zM1090 639h3v1h-3zM1095 639h3v1h-3zM1100 639h3v1h-3zM1105 639h3v1h-3zM1145 639h3v1h-3zM370 640h2v1h-2zM1075 640h3v1h-3zM1080 640h3v1h-3zM1110 640h3v1h-3zM1115 640h3v1h-3zM1120 640h3v1h-3zM1140 640h3v1h-3zM330 641h2v1h-2zM770 641h2v1h-2zM1010 641h2v1h-2zM1070 641h3v1h-3zM1125 641h3v1h-3zM1130 641h3v1h-3zM1135 641h2v1h-2zM291 642h2v1h-2zM326 642h2v1h-2zM375 642h3v1h-3zM1015 642h2v1h-2zM1050 642h3v1h-3zM1055 642h3v1h-3zM1060 642h3v1h-3zM1065 642h3v1h-3zM133 643h2v1h-2zM1020 643h3v1h-3zM1041 643h2v1h-2zM1045 643h3v1h-3zM295 644h2v1h-2zM320 644h2v1h-2zM380 644h3v1h-3zM765 644h2v1h-2zM870 644h2v1h-2zM1025 644h3v1h-3zM1030 644h3v1h-3zM1035 644h3v1h-3zM316 645h2v1h-2zM2 646h2v1h-2zM128 646h2v1h-2zM386 646h2v1h-2zM301 647h2v1h-2zM310 647h3v1h-3zM875 647h2v1h-2zM7 648h2v1h-2zM123 648h2v1h-2zM305 648h3v1h-3zM391 648h2v1h-2zM560 648h3v1h-3zM565 648h3v1h-3zM570 648h3v1h-3zM575 648h3v1h-3zM580 648h3v1h-3zM112 649h3v1h-3zM117 649h3v1h-3zM551 649h2v1h-2zM555 649h3v1h-3zM586 649h2v1h-2zM13 650h2v1h-2zM72 650h3v1h-3zM77 650h3v1h-3zM82 650h3v1h-3zM87 650h3v1h-3zM92 650h3v1h-3zM97 650h3v1h-3zM102 650h3v1h-3zM107 650h3v1h-3zM395 650h3v1h-3zM545 650h3v1h-3zM590 650h3v1h-3zM880 650h2v1h-2zM17 651h3v1h-3zM52 651h3v1h-3zM57 651h3v1h-3zM62 651h3v1h-3zM67 651h3v1h-3zM540 651h3v1h-3zM595 651h2v1h-2zM905 651h2v1h-2zM22 652h3v1h-3zM27 652h3v1h-3zM32 652h3v1h-3zM37 652h3v1h-3zM42 652h3v1h-3zM47 652h3v1h-3zM400 652h3v1h-3zM535 652h3v1h-3zM755 652h2v1h-2zM405 653h2v1h-2zM531 653h2v1h-2zM601 653h2v1h-2zM885 653h3v1h-3zM900 653h3v1h-3zM605 654h3v1h-3zM890 654h2v1h-2zM896 654h2v1h-2zM410 655h3v1h-3zM525 655h3v1h-3zM610 655h3v1h-3zM615 655h2v1h-2zM415 656h3v1h-3zM521 656h2v1h-2zM620 656h3v1h-3zM625 656h3v1h-3zM630 656h3v1h-3zM635 656h3v1h-3zM640 656h3v1h-3zM645 656h2v1h-2zM420 657h3v1h-3zM425 657h3v1h-3zM650 657h2v1h-2zM430 658h3v1h-3zM515 658h3v1h-3zM655 658h3v1h-3zM435 659h3v1h-3zM440 659h2v1h-2zM660 659h3v1h-3zM445 660h3v1h-3zM510 660h2v1h-2zM665 660h3v1h-3zM450 661h3v1h-3zM670 661h3v1h-3zM675 661h2v1h-2zM455 662h3v1h-3zM505 662h2v1h-2zM680 662h3v1h-3zM460 663h2v1h-2zM685 663h2v1h-2zM500 664h2v1h-2zM466 665h2v1h-2zM691 665h2v1h-2zM470 666h3v1h-3zM475 666h2v1h-2zM495 666h2v1h-2zM480 667h3v1h-3zM490 667h3v1h-3zM696 667h2v1h-2zM486 668h2v1h-2zM700 669h2v1h-2zM730 670h2v1h-2zM705 671h3v1h-3zM726 671h2v1h-2zM710 672h3v1h-3zM715 673h3v1h-3zM720 673h2v1h-2zM190 608h1v1h-1zM167 609h1v1h-1zM166 610h1v1h-1zM217 610h1v1h-1zM220 610h1v1h-1zM165 611h1v1h-1zM252 611h1v1h-1zM197 612h1v1h-1zM255 612h1v1h-1zM162 614h1v1h-1zM161 615h1v1h-1zM160 616h1v1h-1zM260 616h1v1h-1zM157 619h1v2h-1zM265 620h1v1h-1zM156 621h1v1h-1zM266 621h1v1h-1zM945 621h1v1h-1zM967 621h1v1h-1zM970 621h1v1h-1zM267 622h1v1h-1zM942 622h1v1h-1zM941 623h1v1h-1zM153 624h1v2h-1zM270 624h1v1h-1zM940 624h1v1h-1zM977 624h1v1h-1zM271 625h1v1h-1zM937 625h1v1h-1zM152 626h1v1h-1zM272 626h1v1h-1zM936 626h1v1h-1zM935 627h1v1h-1zM987 628h1v1h-1zM149 629h1v1h-1zM275 629h1v1h-1zM932 629h1v1h-1zM148 630h1v1h-1zM931 630h1v1h-1zM147 631h1v1h-1zM930 631h1v1h-1zM992 631h1v1h-1zM280 633h1v1h-1zM927 633h1v1h-1zM144 634h1v1h-1zM281 634h1v1h-1zM850 634h1v1h-1zM926 634h1v1h-1zM997 634h1v1h-1zM143 635h1v1h-1zM282 635h1v1h-1zM855 635h1v1h-1zM925 635h1v1h-1zM142 636h1v1h-1zM832 636h1v1h-1zM285 637h1v1h-1zM860 637h1v1h-1zM1002 637h1v1h-1zM286 638h1v1h-1zM777 638h1v1h-1zM780 638h1v1h-1zM807 638h1v1h-1zM825 638h1v1h-1zM922 638h1v1h-1zM1005 638h1v1h-1zM287 639h1v1h-1zM921 639h1v1h-1zM137 640h1v1h-1zM332 640h1v1h-1zM335 640h1v1h-1zM772 640h1v1h-1zM865 640h1v1h-1zM920 640h1v1h-1zM1085 640h1v1h-1zM1137 640h1v1h-1zM290 641h1v1h-1zM372 641h1v1h-1zM866 641h1v1h-1zM867 642h1v1h-1zM1012 642h1v1h-1zM322 643h1v1h-1zM325 643h1v1h-1zM767 643h1v1h-1zM917 643h1v1h-1zM1017 643h1v1h-1zM132 644h1v1h-1zM916 644h1v1h-1zM1040 644h1v1h-1zM297 645h1v1h-1zM385 645h1v1h-1zM872 645h1v1h-1zM915 645h1v1h-1zM300 646h1v1h-1zM315 646h1v1h-1zM762 646h1v1h-1zM4 647h1v1h-1zM127 647h1v1h-1zM390 647h1v1h-1zM761 647h1v1h-1zM912 647h1v1h-1zM585 648h1v1h-1zM760 648h1v1h-1zM877 648h1v1h-1zM911 648h1v1h-1zM9 649h1v1h-1zM12 649h1v1h-1zM122 649h1v1h-1zM910 649h1v1h-1zM550 650h1v1h-1zM907 650h1v1h-1zM757 651h1v1h-1zM882 651h1v1h-1zM597 652h1v1h-1zM600 652h1v1h-1zM407 654h1v1h-1zM530 654h1v1h-1zM752 655h1v1h-1zM892 655h1v1h-1zM895 655h1v1h-1zM617 656h1v1h-1zM751 656h1v1h-1zM520 657h1v1h-1zM647 657h1v1h-1zM750 657h1v1h-1zM652 658h1v1h-1zM512 659h1v1h-1zM747 659h1v1h-1zM442 660h1v1h-1zM746 660h1v1h-1zM507 661h1v1h-1zM745 661h1v1h-1zM677 662h1v1h-1zM502 663h1v1h-1zM742 663h1v1h-1zM462 664h1v1h-1zM465 664h1v1h-1zM687 664h1v1h-1zM690 664h1v1h-1zM741 664h1v1h-1zM497 665h1v1h-1zM740 665h1v1h-1zM695 666h1v1h-1zM737 666h1v1h-1zM477 667h1v1h-1zM485 667h1v1h-1zM736 667h1v1h-1zM735 668h1v1h-1zM732 669h1v1h-1zM702 670h1v1h-1zM722 672h1v1h-1zM725 672h1v1h-1z" fill="#ff0000"/>
</g>
<g shape-rendering="crispEdges">
<rect x="2" y="28" width="1486" height="1" fill="#000"/>
<rect x="2" y="504" width="1486" height="1" fill="#000"/>
<rect x="2" y="28" width="1" height="477" fill="#000"/>
<rect x="1487" y="28" width="1" height="477" fill="#000"/>
<rect x="2" y="506" width="1486" height="1" fill="#000"/>
<rect x="2" y="593" width="1486" height="1" fill="#000"/>
<rect x="2" y="506" width="1" height="88" fill="#000"/>
<rect x="1487" y="506" width="1" height="88" fill="#000"/>
<rect x="2" y="595" width="1486" height="1" fill="#000"/>
<rect x="2" y="681" width="1486" height="1" fill="#000"/>
<rect x="2" y="595" width="1" height="87" fill="#000"/>
<rect x="1487" y="595" width="1" height="87" fill="#000"/>
<rect x="2" y="164" width="6" height="6" fill="#00ff00"/>
<rect x="4" y="166" width="2" height="2" fill="#fff"/>
<rect x="1481" y="164" width="6" height="6" fill="#00ff00"/>
<rect x="1483" y="166" width="2" height="2" fill="#fff"/>
<rect x="2" y="286" width="6" height="6" fill="#0000ff"/>
<rect x="4" y="288" width="2" height="2" fill="#fff"/>
<rect x="1481" y="286" width="6" height="6" fill="#0000ff"/>
<rect x="1483" y="288" width="2" height="2" fill="#fff"/>
<polygon points="6,35 13,35 9.5,39" fill="#000" shape-rendering="auto"/>
<polygon points="1183.5,29 1193.5,29 1188.5,34.5" fill="#c0c0c0" shape-rendering="auto"/>
<rect x="1488" y="39" width="2" height="1" fill="#000"/>
<rect x="1488" y="72" width="2" height="1" fill="#000"/>
<rect x="1488" y="105" width="2" height="1" fill="#000"/>
<rect x="1488" y="138" width="2" height="1" fill="#000"/>
<rect x="1488" y="171" width="2" height="1" fill="#000"/>
<rect x="1488" y="204" width="2" height="1" fill="#000"/>
<rect x="1488" y="237" width="2" height="1" fill="#000"/>
<rect x="1488" y="270" width="2" height="1" fill="#000"/>
<rect x="1488" y="303" width="2" height="1" fill="#000"/>
<rect x="1488" y="336" width="2" height="1" fill="#000"/>
<rect x="1488" y="369" width="2" height="1" fill="#000"/>
<rect x="1488" y="402" width="2" height="1" fill="#000"/>
<rect x="1488" y="435" width="2" height="1" fill="#000"/>
<rect x="1488" y="468" width="2" height="1" fill="#000"/>
<rect x="1488" y="501" width="2" height="1" fill="#000"/>
<rect x="1488" y="533" width="2" height="1" fill="#000"/>
<rect x="1488" y="567" width="2" height="1" fill="#000"/>
<rect x="1488" y="648" width="2" height="1" fill="#000"/>
<rect x="3" y="682" width="1" height="3" fill="#000"/>
<rect x="67" y="682" width="1" height="3" fill="#000"/>
<rect x="131" y="682" width="1" height="3" fill="#000"/>
<rect x="195" y="682" width="1" height="3" fill="#000"/>
<rect x="259" y="682" width="1" height="3" fill="#000"/>
<rect x="323" y="682" width="1" height="3" fill="#000"/>
<rect x="387" y="682" width="1" height="3" fill="#000"/>
<rect x="451" y="682" width="1" height="3" fill="#000"/>
<rect x="515" y="682" width="1" height="3" fill="#000"/>
<rect x="579" y="682" width="1" height="3" fill="#000"/>
<rect x="643" y="682" width="1" height="3" fill="#000"/>
<rect x="707" y="682" width="1" height="3" fill="#000"/>
<rect x="771" y="682" width="1" height="3" fill="#000"/>
<rect x="835" y="682" width="1" height="3" fill="#000"/>
<rect x="899" y="682" width="1" height="3" fill="#000"/>
<rect x="963" y="682" width="1" height="3" fill="#000"/>
<rect x="1027" y="682" width="1" height="3" fill="#000"/>
<rect x="1091" y="682" width="1" height="3" fill="#000"/>
<rect x="1155" y="682" width="1" height="3" fill="#000"/>
</g>
<text x="1493" y="43" font-size="10.2" fill="#000" stroke="#000" stroke-width="0.25" textLength="33" lengthAdjust="spacingAndGlyphs">7.20570</text>
<text x="1493" y="76" font-size="10.2" fill="#000" stroke="#000" stroke-width="0.25" textLength="33" lengthAdjust="spacingAndGlyphs">7.17850</text>
<text x="1493" y="109" font-size="10.2" fill="#000" stroke="#000" stroke-width="0.25" textLength="33" lengthAdjust="spacingAndGlyphs">7.15130</text>
<text x="1493" y="142" font-size="10.2" fill="#000" stroke="#000" stroke-width="0.25" textLength="33" lengthAdjust="spacingAndGlyphs">7.12410</text>
<text x="1493" y="175" font-size="10.2" fill="#000" stroke="#000" stroke-width="0.25" textLength="33" lengthAdjust="spacingAndGlyphs">7.09690</text>
<text x="1493" y="208" font-size="10.2" fill="#000" stroke="#000" stroke-width="0.25" textLength="33" lengthAdjust="spacingAndGlyphs">7.06970</text>
<text x="1493" y="241" font-size="10.2" fill="#000" stroke="#000" stroke-width="0.25" textLength="33" lengthAdjust="spacingAndGlyphs">7.04250</text>
<text x="1493" y="274" font-size="10.2" fill="#000" stroke="#000" stroke-width="0.25" textLength="33" lengthAdjust="spacingAndGlyphs">7.01530</text>
<text x="1493" y="307" font-size="10.2" fill="#000" stroke="#000" stroke-width="0.25" textLength="33" lengthAdjust="spacingAndGlyphs">6.98810</text>
<text x="1493" y="340" font-size="10.2" fill="#000" stroke="#000" stroke-width="0.25" textLength="33" lengthAdjust="spacingAndGlyphs">6.96090</text>
<text x="1493" y="373" font-size="10.2" fill="#000" stroke="#000" stroke-width="0.25" textLength="33" lengthAdjust="spacingAndGlyphs">6.93370</text>
<text x="1493" y="406" font-size="10.2" fill="#000" stroke="#000" stroke-width="0.25" textLength="33" lengthAdjust="spacingAndGlyphs">6.90650</text>
<text x="1493" y="439" font-size="10.2" fill="#000" stroke="#000" stroke-width="0.25" textLength="33" lengthAdjust="spacingAndGlyphs">6.87930</text>
<text x="1493" y="472" font-size="10.2" fill="#000" stroke="#000" stroke-width="0.25" textLength="33" lengthAdjust="spacingAndGlyphs">6.85290</text>
<text x="1493" y="505" font-size="10.2" fill="#000" stroke="#000" stroke-width="0.25" textLength="33" lengthAdjust="spacingAndGlyphs">6.82570</text>
<rect x="1489" y="38" width="41" height="11" fill="#ff0000" shape-rendering="crispEdges"/>
<text x="1493" y="47" font-size="10.2" fill="#fff" stroke="#fff" stroke-width="0.25" textLength="33" lengthAdjust="spacingAndGlyphs">7.20193</text>
<rect x="1489" y="138" width="41" height="11" fill="#000" shape-rendering="crispEdges"/>
<text x="1493" y="147" font-size="10.2" fill="#fff" stroke="#fff" stroke-width="0.25" textLength="33" lengthAdjust="spacingAndGlyphs">7.12048</text>
<rect x="1489" y="161" width="41" height="11" fill="#00ff00" shape-rendering="crispEdges"/>
<text x="1493" y="170" font-size="10.2" fill="#fff" stroke="#fff" stroke-width="0.25" textLength="33" lengthAdjust="spacingAndGlyphs">7.10011</text>
<rect x="1489" y="283" width="41" height="11" fill="#0000ff" shape-rendering="crispEdges"/>
<text x="1493" y="292" font-size="10.2" fill="#fff" stroke="#fff" stroke-width="0.25" textLength="33" lengthAdjust="spacingAndGlyphs">7.00029</text>
<rect x="1489" y="426" width="41" height="11" fill="#0000ff" shape-rendering="crispEdges"/>
<text x="1493" y="435" font-size="10.2" fill="#fff" stroke="#fff" stroke-width="0.25" textLength="33" lengthAdjust="spacingAndGlyphs">6.88250</text>
<text x="1491" y="517" font-size="10.2" fill="#000" stroke="#000" stroke-width="0.25" textLength="15" lengthAdjust="spacingAndGlyphs">100</text>
<text x="1491" y="537" font-size="10.2" fill="#000" stroke="#000" stroke-width="0.25" textLength="10" lengthAdjust="spacingAndGlyphs">70</text>
<text x="1491" y="571" font-size="10.2" fill="#000" stroke="#000" stroke-width="0.25" textLength="10" lengthAdjust="spacingAndGlyphs">30</text>
<text x="1491" y="590" font-size="10.2" fill="#000" stroke="#000" stroke-width="0.25" textLength="5" lengthAdjust="spacingAndGlyphs">0</text>
<text x="1491" y="606" font-size="10.2" fill="#000" stroke="#000" stroke-width="0.25" textLength="38" lengthAdjust="spacingAndGlyphs">0.061119</text>
<text x="1491" y="652" font-size="10.2" fill="#000" stroke="#000" stroke-width="0.25" textLength="18" lengthAdjust="spacingAndGlyphs">0.00</text>
<text x="1491" y="679" font-size="10.2" fill="#000" stroke="#000" stroke-width="0.25" textLength="41" lengthAdjust="spacingAndGlyphs">-0.038777</text>
<text x="18" y="40" font-size="10.2" fill="#000" stroke="#000" stroke-width="0.25" textLength="65" lengthAdjust="spacingAndGlyphs">USDCNH,Daily</text>
<text x="89.7" y="40" font-size="10.2" fill="#000" stroke="#000" stroke-width="0.25" textLength="33" lengthAdjust="spacingAndGlyphs">7.11591</text>
<text x="125.7" y="40" font-size="10.2" fill="#000" stroke="#000" stroke-width="0.25" textLength="33" lengthAdjust="spacingAndGlyphs">7.12508</text>
<text x="161.7" y="40" font-size="10.2" fill="#000" stroke="#000" stroke-width="0.25" textLength="33" lengthAdjust="spacingAndGlyphs">7.11133</text>
<text x="197.7" y="40" font-size="10.2" fill="#000" stroke="#000" stroke-width="0.25" textLength="33" lengthAdjust="spacingAndGlyphs">7.12048</text>
<text x="7" y="519" font-size="10.2" fill="#000" stroke="#000" stroke-width="0.25" textLength="68" lengthAdjust="spacingAndGlyphs">RSI(14) 48.4185</text>
<text x="7" y="608" font-size="10.2" fill="#000" stroke="#000" stroke-width="0.25" textLength="148" lengthAdjust="spacingAndGlyphs">MACD(12,26,9) 0.006519 0.013562</text>
<text x="2.2" y="694" font-size="10.2" fill="#000" stroke="#000" stroke-width="0.25" textLength="50" lengthAdjust="spacingAndGlyphs">27 Jun 2019</text>
<text x="66.2" y="694" font-size="10.2" fill="#000" stroke="#000" stroke-width="0.25" textLength="47" lengthAdjust="spacingAndGlyphs">16 Jul 2019</text>
<text x="130.2" y="694" font-size="10.2" fill="#000" stroke="#000" stroke-width="0.25" textLength="48" lengthAdjust="spacingAndGlyphs">3 Aug 2019</text>
<text x="194.2" y="694" font-size="10.2" fill="#000" stroke="#000" stroke-width="0.25" textLength="53" lengthAdjust="spacingAndGlyphs">22 Aug 2019</text>
<text x="258.2" y="694" font-size="10.2" fill="#000" stroke="#000" stroke-width="0.25" textLength="52" lengthAdjust="spacingAndGlyphs">10 Sep 2019</text>
<text x="322.2" y="694" font-size="10.2" fill="#000" stroke="#000" stroke-width="0.25" textLength="52" lengthAdjust="spacingAndGlyphs">28 Sep 2019</text>
<text x="386.2" y="694" font-size="10.2" fill="#000" stroke="#000" stroke-width="0.25" textLength="51" lengthAdjust="spacingAndGlyphs">17 Oct 2019</text>
<text x="450.2" y="694" font-size="10.2" fill="#000" stroke="#000" stroke-width="0.25" textLength="48" lengthAdjust="spacingAndGlyphs">5 Nov 2019</text>
<text x="514.2" y="694" font-size="10.2" fill="#000" stroke="#000" stroke-width="0.25" textLength="53" lengthAdjust="spacingAndGlyphs">23 Nov 2019</text>
<text x="578.2" y="694" font-size="10.2" fill="#000" stroke="#000" stroke-width="0.25" textLength="53" lengthAdjust="spacingAndGlyphs">12 Dec 2019</text>
<text x="642.2" y="694" font-size="10.2" fill="#000" stroke="#000" stroke-width="0.25" textLength="53" lengthAdjust="spacingAndGlyphs">31 Dec 2019</text>
<text x="706.2" y="694" font-size="10.2" fill="#000" stroke="#000" stroke-width="0.25" textLength="50" lengthAdjust="spacingAndGlyphs">18 Jan 2020</text>
<text x="770.2" y="694" font-size="10.2" fill="#000" stroke="#000" stroke-width="0.25" textLength="47" lengthAdjust="spacingAndGlyphs">6 Feb 2020</text>
<text x="834.2" y="694" font-size="10.2" fill="#000" stroke="#000" stroke-width="0.25" textLength="52" lengthAdjust="spacingAndGlyphs">25 Feb 2020</text>
<text x="898.2" y="694" font-size="10.2" fill="#000" stroke="#000" stroke-width="0.25" textLength="52" lengthAdjust="spacingAndGlyphs">14 Mar 2020</text>
<text x="962.2" y="694" font-size="10.2" fill="#000" stroke="#000" stroke-width="0.25" textLength="46" lengthAdjust="spacingAndGlyphs">2 Apr 2020</text>
<text x="1026.2" y="694" font-size="10.2" fill="#000" stroke="#000" stroke-width="0.25" textLength="51" lengthAdjust="spacingAndGlyphs">21 Apr 2020</text>
<text x="1090.2" y="694" font-size="10.2" fill="#000" stroke="#000" stroke-width="0.25" textLength="49" lengthAdjust="spacingAndGlyphs">9 May 2020</text>
<text x="1154.2" y="694" font-size="10.2" fill="#000" stroke="#000" stroke-width="0.25" textLength="54" lengthAdjust="spacingAndGlyphs">28 May 2020</text>
<rect x="0" y="702" width="1532" height="1" fill="#e0e0e0" shape-rendering="crispEdges"/>
<rect x="0" y="704" width="1532" height="1" fill="#000" shape-rendering="crispEdges"/>
<rect x="0" y="705" width="1532" height="18" fill="#f0f0f0" shape-rendering="crispEdges"/>
<rect x="416" y="704" width="104" height="19" fill="#fff" shape-rendering="crispEdges"/>
<rect x="416" y="704" width="1" height="19" fill="#000" shape-rendering="crispEdges"/>
<rect x="519" y="704" width="1" height="19" fill="#000" shape-rendering="crispEdges"/>
<rect x="416" y="722" width="104" height="1" fill="#000" shape-rendering="crispEdges"/>
<text x="15.7" y="719" font-size="12.4" fill="#6e6e6e" textLength="80.8" lengthAdjust="spacingAndGlyphs">EURUSD,Daily</text>
<text x="117.1" y="719" font-size="12.4" fill="#6e6e6e" textLength="80.2" lengthAdjust="spacingAndGlyphs">USDCHF,Daily</text>
<text x="218.1" y="719" font-size="12.4" fill="#6e6e6e" textLength="83.0" lengthAdjust="spacingAndGlyphs">AUDUSD,Daily</text>
<text x="322.6" y="719" font-size="12.4" fill="#6e6e6e" textLength="81.8" lengthAdjust="spacingAndGlyphs">USDCAD,Daily</text>
<text x="531.3" y="719" font-size="12.4" fill="#6e6e6e" textLength="81.1" lengthAdjust="spacingAndGlyphs">EURUSD,Daily</text>
<text x="634.9" y="719" font-size="12.4" fill="#6e6e6e" textLength="81.4" lengthAdjust="spacingAndGlyphs">GBPUSD,Daily</text>
<text x="738.4" y="719" font-size="12.4" fill="#6e6e6e" textLength="69.9" lengthAdjust="spacingAndGlyphs">XAUUSD,H4</text>
<text x="830.1" y="719" font-size="12.4" fill="#6e6e6e" textLength="51.2" lengthAdjust="spacingAndGlyphs">HK50,H1</text>
<text x="902.1" y="719" font-size="12.4" fill="#6e6e6e" textLength="58.3" lengthAdjust="spacingAndGlyphs">UK100,H1</text>
<text x="982.1" y="719" font-size="12.4" fill="#6e6e6e" textLength="58.3" lengthAdjust="spacingAndGlyphs">UK100,H1</text>
<text x="1062.1" y="719" font-size="12.4" fill="#6e6e6e" textLength="57.9" lengthAdjust="spacingAndGlyphs">GER30,H1</text>
<text x="1141.1" y="719" font-size="12.4" fill="#6e6e6e" textLength="56.3" lengthAdjust="spacingAndGlyphs">FRA40,H1</text>
<text x="1217.5" y="719" font-size="12.4" fill="#6e6e6e" textLength="63.9" lengthAdjust="spacingAndGlyphs">USOil,Daily</text>
<text x="1301.7" y="719" font-size="12.4" fill="#6e6e6e" textLength="63.7" lengthAdjust="spacingAndGlyphs">USDJPY,H1</text>
<text x="1385.5" y="719" font-size="12.4" fill="#6e6e6e" textLength="47.9" lengthAdjust="spacingAndGlyphs">DJ30,H1</text>
<text x="425.3" y="719" font-size="12.4" fill="#000" textLength="84.1" lengthAdjust="spacingAndGlyphs">USDCNH,Daily</text>
<rect x="108" y="707" width="1" height="14" fill="#707070" shape-rendering="crispEdges"/>
<rect x="208" y="707" width="1" height="14" fill="#707070" shape-rendering="crispEdges"/>
<rect x="312" y="707" width="1" height="14" fill="#707070" shape-rendering="crispEdges"/>
<rect x="624" y="707" width="1" height="14" fill="#707070" shape-rendering="crispEdges"/>
<rect x="728" y="707" width="1" height="14" fill="#707070" shape-rendering="crispEdges"/>
<rect x="820" y="707" width="1" height="14" fill="#707070" shape-rendering="crispEdges"/>
<rect x="892" y="707" width="1" height="14" fill="#707070" shape-rendering="crispEdges"/>
<rect x="972" y="707" width="1" height="14" fill="#707070" shape-rendering="crispEdges"/>
<rect x="1052" y="707" width="1" height="14" fill="#707070" shape-rendering="crispEdges"/>
<rect x="1132" y="707" width="1" height="14" fill="#707070" shape-rendering="crispEdges"/>
<rect x="1209" y="707" width="1" height="14" fill="#707070" shape-rendering="crispEdges"/>
<rect x="1292" y="707" width="1" height="14" fill="#707070" shape-rendering="crispEdges"/>
<rect x="1376" y="707" width="1" height="14" fill="#707070" shape-rendering="crispEdges"/>
<rect x="1444" y="707" width="1" height="14" fill="#707070" shape-rendering="crispEdges"/>
<polygon points="1506,710 1506,716.5 1503,713.25" fill="#808080"/>
<polygon points="1522,710 1522,716.5 1525,713.25" fill="#808080"/>
</svg>
</body></html>
